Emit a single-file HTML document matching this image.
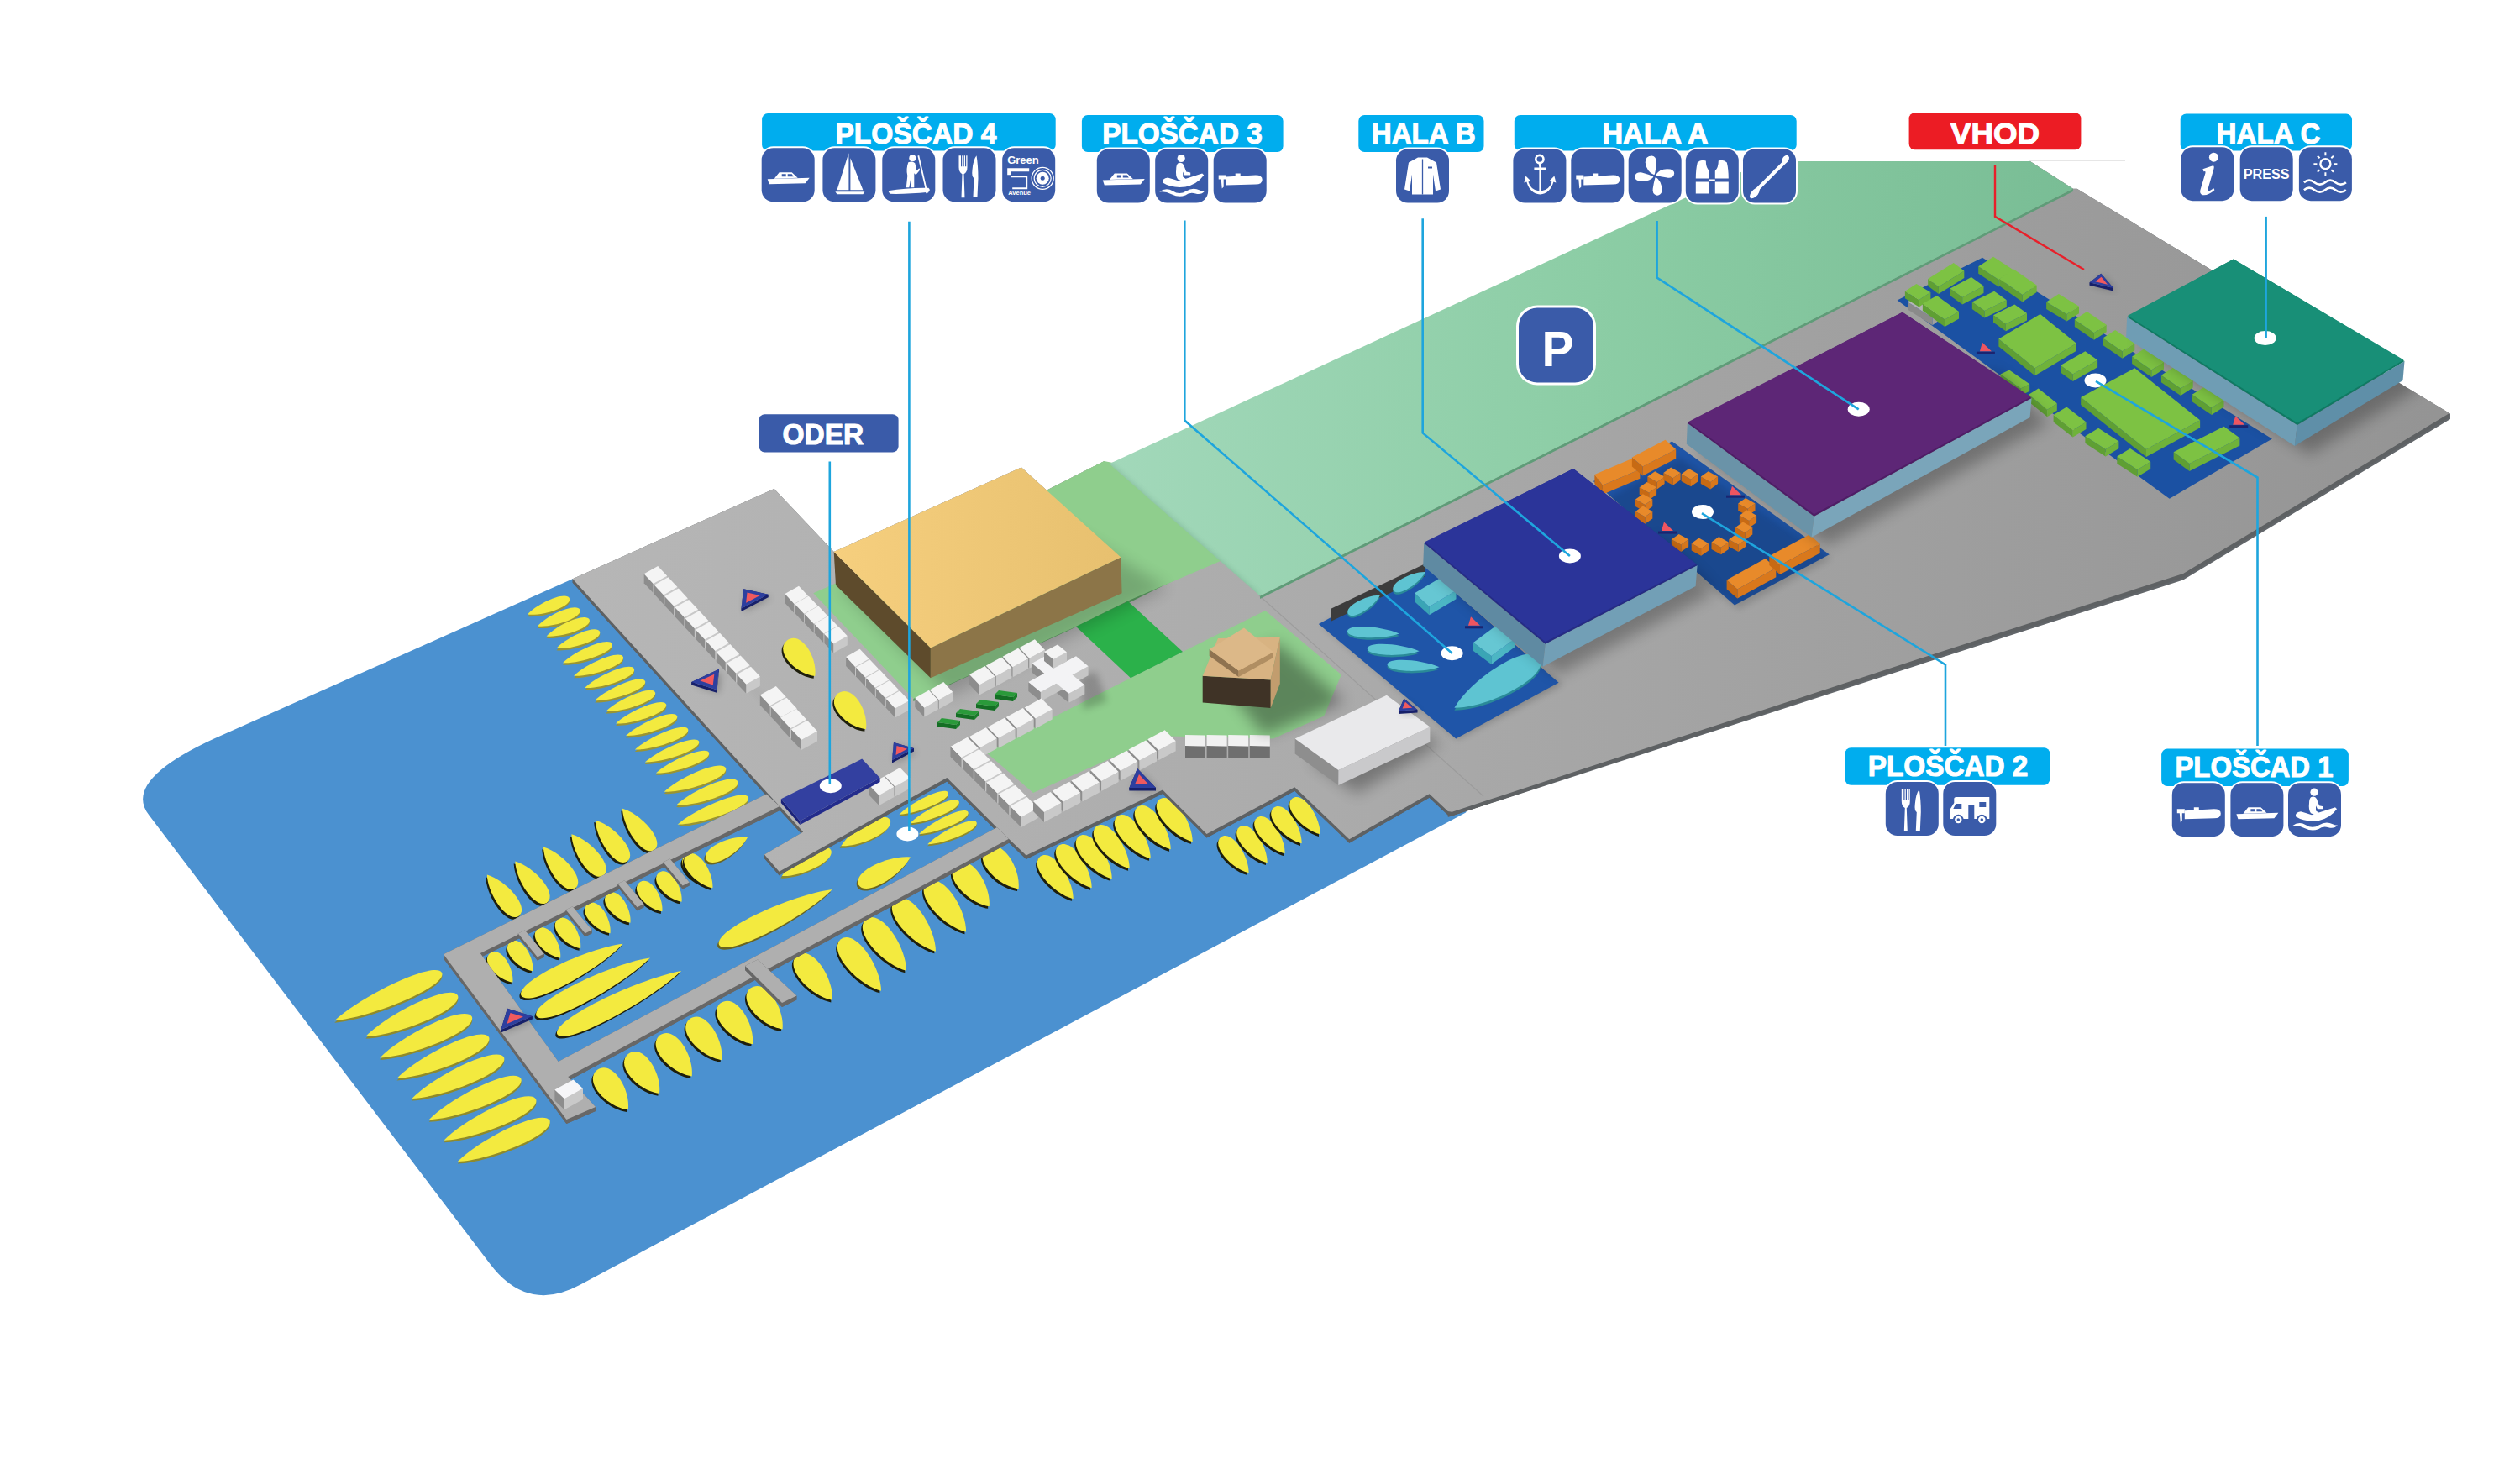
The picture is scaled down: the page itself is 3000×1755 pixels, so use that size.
<!DOCTYPE html><html><head><meta charset="utf-8"><style>html,body{margin:0;padding:0;width:3000px;height:1755px;overflow:hidden;background:#fff}</style></head><body><svg width="3000" height="1755" viewBox="0 0 3000 1755" style="position:absolute;left:0;top:0">
<defs>
<linearGradient id="gland" gradientUnits="userSpaceOnUse" x1="700" y1="0" x2="2900" y2="0">
<stop offset="0" stop-color="#b6b6b6"/><stop offset="0.4" stop-color="#ababab"/><stop offset="1" stop-color="#949494"/></linearGradient>
<linearGradient id="gpark" gradientUnits="userSpaceOnUse" x1="1320" y1="0" x2="2470" y2="0">
<stop offset="0" stop-color="#a2d8ba"/><stop offset="0.5" stop-color="#8ccda5"/><stop offset="1" stop-color="#79bd95"/></linearGradient>
<linearGradient id="gtan" gradientUnits="userSpaceOnUse" x1="990" y1="0" x2="1335" y2="0">
<stop offset="0" stop-color="#f6cf7e"/><stop offset="1" stop-color="#e7c06f"/></linearGradient>
<filter id="bl" x="-30%" y="-30%" width="160%" height="160%"><feGaussianBlur stdDeviation="9"/></filter>
<filter id="bl2" x="-30%" y="-30%" width="160%" height="160%"><feGaussianBlur stdDeviation="4"/></filter>
</defs>
<rect width="3000" height="1755" fill="#ffffff"/>
<path d="M 254.8,879.5 L 681.7,689.3 L 1000,850 L 1760,940 L 1745,967.5 L 690,1530 Q 627.8,1563.4 583.5,1505 L 177.4,970.6 Q 145.2,929.9 254.8,879.5 Z" fill="#4b91d0" />
<path transform="translate(653.0,724.4) rotate(-21.0)" d="M-26.8,0 C-10.7,-8.4 26.2,-10.1 26.8,0 C26.2,10.1 -10.7,8.4 -26.8,0Z" fill="#9a9432"/>
<path transform="translate(653.0,722.0) rotate(-21.0)" d="M-26.8,0 C-10.7,-8.4 26.2,-10.1 26.8,0 C26.2,10.1 -10.7,8.4 -26.8,0Z" fill="#f3ea3f"/>
<path transform="translate(665.2,738.1) rotate(-21.0)" d="M-27.1,0 C-10.9,-8.4 26.6,-10.1 27.1,0 C26.6,10.1 -10.9,8.4 -27.1,0Z" fill="#9a9432"/>
<path transform="translate(665.2,735.7) rotate(-21.0)" d="M-27.1,0 C-10.9,-8.4 26.6,-10.1 27.1,0 C26.6,10.1 -10.9,8.4 -27.1,0Z" fill="#f3ea3f"/>
<path transform="translate(676.2,750.0) rotate(-21.0)" d="M-27.4,0 C-11.0,-8.4 26.8,-10.1 27.4,0 C26.8,10.1 -11.0,8.4 -27.4,0Z" fill="#9a9432"/>
<path transform="translate(676.2,747.6) rotate(-21.0)" d="M-27.4,0 C-11.0,-8.4 26.8,-10.1 27.4,0 C26.8,10.1 -11.0,8.4 -27.4,0Z" fill="#f3ea3f"/>
<path transform="translate(688.3,764.3) rotate(-21.0)" d="M-27.6,0 C-11.0,-8.4 27.1,-10.1 27.6,0 C27.1,10.1 -11.0,8.4 -27.6,0Z" fill="#9a9432"/>
<path transform="translate(688.3,761.9) rotate(-21.0)" d="M-27.6,0 C-11.0,-8.4 27.1,-10.1 27.6,0 C27.1,10.1 -11.0,8.4 -27.6,0Z" fill="#f3ea3f"/>
<path transform="translate(699.4,780.4) rotate(-21.0)" d="M-31.5,0 C-12.6,-8.4 30.9,-10.1 31.5,0 C30.9,10.1 -12.6,8.4 -31.5,0Z" fill="#9a9432"/>
<path transform="translate(699.4,778.0) rotate(-21.0)" d="M-31.5,0 C-12.6,-8.4 30.9,-10.1 31.5,0 C30.9,10.1 -12.6,8.4 -31.5,0Z" fill="#f3ea3f"/>
<path transform="translate(712.5,795.9) rotate(-21.0)" d="M-31.5,0 C-12.6,-8.4 30.9,-10.1 31.5,0 C30.9,10.1 -12.6,8.4 -31.5,0Z" fill="#9a9432"/>
<path transform="translate(712.5,793.5) rotate(-21.0)" d="M-31.5,0 C-12.6,-8.4 30.9,-10.1 31.5,0 C30.9,10.1 -12.6,8.4 -31.5,0Z" fill="#f3ea3f"/>
<path transform="translate(725.6,810.1) rotate(-21.0)" d="M-31.5,0 C-12.6,-8.4 30.9,-10.1 31.5,0 C30.9,10.1 -12.6,8.4 -31.5,0Z" fill="#9a9432"/>
<path transform="translate(725.6,807.7) rotate(-21.0)" d="M-31.5,0 C-12.6,-8.4 30.9,-10.1 31.5,0 C30.9,10.1 -12.6,8.4 -31.5,0Z" fill="#f3ea3f"/>
<path transform="translate(738.1,825.0) rotate(-21.0)" d="M-32.1,0 C-12.9,-8.4 31.5,-10.1 32.1,0 C31.5,10.1 -12.9,8.4 -32.1,0Z" fill="#9a9432"/>
<path transform="translate(738.1,822.6) rotate(-21.0)" d="M-32.1,0 C-12.9,-8.4 31.5,-10.1 32.1,0 C31.5,10.1 -12.9,8.4 -32.1,0Z" fill="#f3ea3f"/>
<path transform="translate(750.6,838.1) rotate(-21.0)" d="M-31.5,0 C-12.6,-8.4 30.9,-10.1 31.5,0 C30.9,10.1 -12.6,8.4 -31.5,0Z" fill="#9a9432"/>
<path transform="translate(750.6,835.7) rotate(-21.0)" d="M-31.5,0 C-12.6,-8.4 30.9,-10.1 31.5,0 C30.9,10.1 -12.6,8.4 -31.5,0Z" fill="#f3ea3f"/>
<path transform="translate(763.1,852.4) rotate(-21.0)" d="M-32.1,0 C-12.9,-8.4 31.5,-10.1 32.1,0 C31.5,10.1 -12.9,8.4 -32.1,0Z" fill="#9a9432"/>
<path transform="translate(763.1,850.0) rotate(-21.0)" d="M-32.1,0 C-12.9,-8.4 31.5,-10.1 32.1,0 C31.5,10.1 -12.9,8.4 -32.1,0Z" fill="#f3ea3f"/>
<path transform="translate(775.6,866.7) rotate(-21.0)" d="M-32.7,0 C-13.1,-8.4 32.1,-10.1 32.7,0 C32.1,10.1 -13.1,8.4 -32.7,0Z" fill="#9a9432"/>
<path transform="translate(775.6,864.3) rotate(-21.0)" d="M-32.7,0 C-13.1,-8.4 32.1,-10.1 32.7,0 C32.1,10.1 -13.1,8.4 -32.7,0Z" fill="#f3ea3f"/>
<path transform="translate(787.5,882.8) rotate(-21.0)" d="M-33.9,0 C-13.6,-8.4 33.2,-10.1 33.9,0 C33.2,10.1 -13.6,8.4 -33.9,0Z" fill="#9a9432"/>
<path transform="translate(787.5,880.4) rotate(-21.0)" d="M-33.9,0 C-13.6,-8.4 33.2,-10.1 33.9,0 C33.2,10.1 -13.6,8.4 -33.9,0Z" fill="#f3ea3f"/>
<path transform="translate(800.0,897.6) rotate(-21.0)" d="M-34.5,0 C-13.8,-8.4 33.8,-10.1 34.5,0 C33.8,10.1 -13.8,8.4 -34.5,0Z" fill="#9a9432"/>
<path transform="translate(800.0,895.2) rotate(-21.0)" d="M-34.5,0 C-13.8,-8.4 33.8,-10.1 34.5,0 C33.8,10.1 -13.8,8.4 -34.5,0Z" fill="#f3ea3f"/>
<path transform="translate(812.5,910.7) rotate(-21.0)" d="M-33.9,0 C-13.6,-8.4 33.2,-10.1 33.9,0 C33.2,10.1 -13.6,8.4 -33.9,0Z" fill="#9a9432"/>
<path transform="translate(812.5,908.3) rotate(-21.0)" d="M-33.9,0 C-13.6,-8.4 33.2,-10.1 33.9,0 C33.2,10.1 -13.6,8.4 -33.9,0Z" fill="#f3ea3f"/>
<path transform="translate(827.4,931.0) rotate(-21.0)" d="M-39.3,0 C-15.7,-10.2 38.5,-12.2 39.3,0 C38.5,12.2 -15.7,10.2 -39.3,0Z" fill="#9a9432"/>
<path transform="translate(827.4,928.6) rotate(-21.0)" d="M-39.3,0 C-15.7,-10.2 38.5,-12.2 39.3,0 C38.5,12.2 -15.7,10.2 -39.3,0Z" fill="#f3ea3f"/>
<path transform="translate(841.7,947.0) rotate(-21.0)" d="M-39.3,0 C-15.7,-10.2 38.5,-12.2 39.3,0 C38.5,12.2 -15.7,10.2 -39.3,0Z" fill="#9a9432"/>
<path transform="translate(841.7,944.6) rotate(-21.0)" d="M-39.3,0 C-15.7,-10.2 38.5,-12.2 39.3,0 C38.5,12.2 -15.7,10.2 -39.3,0Z" fill="#f3ea3f"/>
<path transform="translate(848.8,967.9) rotate(-21.0)" d="M-45.2,0 C-18.1,-10.2 44.3,-12.2 45.2,0 C44.3,12.2 -18.1,10.2 -45.2,0Z" fill="#9a9432"/>
<path transform="translate(848.8,965.5) rotate(-21.0)" d="M-45.2,0 C-18.1,-10.2 44.3,-12.2 45.2,0 C44.3,12.2 -18.1,10.2 -45.2,0Z" fill="#f3ea3f"/>
<path transform="translate(597.3,1068.6) rotate(52.0)" d="M-31.0,0 C-12.4,-13.8 30.4,-16.6 31.0,0 C30.4,16.6 -12.4,13.8 -31.0,0Z" fill="#1e1e0c"/>
<path transform="translate(598.9,1066.0) rotate(52.0)" d="M-31.0,0 C-12.4,-13.8 30.4,-16.6 31.0,0 C30.4,16.6 -12.4,13.8 -31.0,0Z" fill="#f3ea3f"/>
<path transform="translate(630.8,1052.6) rotate(52.0)" d="M-31.0,0 C-12.4,-13.8 30.4,-16.6 31.0,0 C30.4,16.6 -12.4,13.8 -31.0,0Z" fill="#1e1e0c"/>
<path transform="translate(632.4,1050.0) rotate(52.0)" d="M-31.0,0 C-12.4,-13.8 30.4,-16.6 31.0,0 C30.4,16.6 -12.4,13.8 -31.0,0Z" fill="#f3ea3f"/>
<path transform="translate(664.4,1035.6) rotate(52.0)" d="M-31.0,0 C-12.4,-13.8 30.4,-16.6 31.0,0 C30.4,16.6 -12.4,13.8 -31.0,0Z" fill="#1e1e0c"/>
<path transform="translate(666.0,1033.0) rotate(52.0)" d="M-31.0,0 C-12.4,-13.8 30.4,-16.6 31.0,0 C30.4,16.6 -12.4,13.8 -31.0,0Z" fill="#f3ea3f"/>
<path transform="translate(697.9,1020.3) rotate(52.0)" d="M-31.0,0 C-12.4,-13.8 30.4,-16.6 31.0,0 C30.4,16.6 -12.4,13.8 -31.0,0Z" fill="#1e1e0c"/>
<path transform="translate(699.5,1017.7) rotate(52.0)" d="M-31.0,0 C-12.4,-13.8 30.4,-16.6 31.0,0 C30.4,16.6 -12.4,13.8 -31.0,0Z" fill="#f3ea3f"/>
<path transform="translate(726.3,1003.5) rotate(52.0)" d="M-31.0,0 C-12.4,-13.8 30.4,-16.6 31.0,0 C30.4,16.6 -12.4,13.8 -31.0,0Z" fill="#1e1e0c"/>
<path transform="translate(727.9,1000.9) rotate(52.0)" d="M-31.0,0 C-12.4,-13.8 30.4,-16.6 31.0,0 C30.4,16.6 -12.4,13.8 -31.0,0Z" fill="#f3ea3f"/>
<path transform="translate(758.5,989.9) rotate(52.0)" d="M-31.0,0 C-12.4,-13.8 30.4,-16.6 31.0,0 C30.4,16.6 -12.4,13.8 -31.0,0Z" fill="#1e1e0c"/>
<path transform="translate(760.1,987.3) rotate(52.0)" d="M-31.0,0 C-12.4,-13.8 30.4,-16.6 31.0,0 C30.4,16.6 -12.4,13.8 -31.0,0Z" fill="#f3ea3f"/>
<path transform="translate(595.2,1154.9) rotate(232.0)" d="M-22.0,0 C-8.8,-12.6 21.6,-15.1 22.0,0 C21.6,15.1 -8.8,12.6 -22.0,0Z" fill="#1e1e0c"/>
<path transform="translate(596.8,1152.3) rotate(232.0)" d="M-22.0,0 C-8.8,-12.6 21.6,-15.1 22.0,0 C21.6,15.1 -8.8,12.6 -22.0,0Z" fill="#f3ea3f"/>
<path transform="translate(619.2,1141.5) rotate(232.0)" d="M-22.0,0 C-8.8,-12.6 21.6,-15.1 22.0,0 C21.6,15.1 -8.8,12.6 -22.0,0Z" fill="#1e1e0c"/>
<path transform="translate(620.8,1138.9) rotate(232.0)" d="M-22.0,0 C-8.8,-12.6 21.6,-15.1 22.0,0 C21.6,15.1 -8.8,12.6 -22.0,0Z" fill="#f3ea3f"/>
<path transform="translate(652.0,1126.0) rotate(232.0)" d="M-22.0,0 C-8.8,-12.6 21.6,-15.1 22.0,0 C21.6,15.1 -8.8,12.6 -22.0,0Z" fill="#1e1e0c"/>
<path transform="translate(653.6,1123.4) rotate(232.0)" d="M-22.0,0 C-8.8,-12.6 21.6,-15.1 22.0,0 C21.6,15.1 -8.8,12.6 -22.0,0Z" fill="#f3ea3f"/>
<path transform="translate(676.0,1114.4) rotate(232.0)" d="M-22.0,0 C-8.8,-12.6 21.6,-15.1 22.0,0 C21.6,15.1 -8.8,12.6 -22.0,0Z" fill="#1e1e0c"/>
<path transform="translate(677.6,1111.8) rotate(232.0)" d="M-22.0,0 C-8.8,-12.6 21.6,-15.1 22.0,0 C21.6,15.1 -8.8,12.6 -22.0,0Z" fill="#f3ea3f"/>
<path transform="translate(711.4,1096.4) rotate(232.0)" d="M-22.0,0 C-8.8,-12.6 21.6,-15.1 22.0,0 C21.6,15.1 -8.8,12.6 -22.0,0Z" fill="#1e1e0c"/>
<path transform="translate(713.0,1093.8) rotate(232.0)" d="M-22.0,0 C-8.8,-12.6 21.6,-15.1 22.0,0 C21.6,15.1 -8.8,12.6 -22.0,0Z" fill="#f3ea3f"/>
<path transform="translate(735.3,1084.0) rotate(232.0)" d="M-22.0,0 C-8.8,-12.6 21.6,-15.1 22.0,0 C21.6,15.1 -8.8,12.6 -22.0,0Z" fill="#1e1e0c"/>
<path transform="translate(736.9,1081.4) rotate(232.0)" d="M-22.0,0 C-8.8,-12.6 21.6,-15.1 22.0,0 C21.6,15.1 -8.8,12.6 -22.0,0Z" fill="#f3ea3f"/>
<path transform="translate(773.2,1070.6) rotate(232.0)" d="M-22.0,0 C-8.8,-12.6 21.6,-15.1 22.0,0 C21.6,15.1 -8.8,12.6 -22.0,0Z" fill="#1e1e0c"/>
<path transform="translate(774.8,1068.0) rotate(232.0)" d="M-22.0,0 C-8.8,-12.6 21.6,-15.1 22.0,0 C21.6,15.1 -8.8,12.6 -22.0,0Z" fill="#f3ea3f"/>
<path transform="translate(796.4,1059.0) rotate(232.0)" d="M-22.0,0 C-8.8,-12.6 21.6,-15.1 22.0,0 C21.6,15.1 -8.8,12.6 -22.0,0Z" fill="#1e1e0c"/>
<path transform="translate(798.0,1056.4) rotate(232.0)" d="M-22.0,0 C-8.8,-12.6 21.6,-15.1 22.0,0 C21.6,15.1 -8.8,12.6 -22.0,0Z" fill="#f3ea3f"/>
<path transform="translate(827.4,1038.9) rotate(232.0)" d="M-22.0,0 C-8.8,-12.6 21.6,-15.1 22.0,0 C21.6,15.1 -8.8,12.6 -22.0,0Z" fill="#1e1e0c"/>
<path transform="translate(829.0,1036.3) rotate(232.0)" d="M-22.0,0 C-8.8,-12.6 21.6,-15.1 22.0,0 C21.6,15.1 -8.8,12.6 -22.0,0Z" fill="#f3ea3f"/>
<path transform="translate(679.4,1157.1) rotate(153.0)" d="M-68.0,0 C-27.2,-15.0 66.6,-18.0 68.0,0 C66.6,18.0 -27.2,15.0 -68.0,0Z" fill="#1e1e0c"/>
<path transform="translate(681.0,1154.5) rotate(153.0)" d="M-68.0,0 C-27.2,-15.0 66.6,-18.0 68.0,0 C66.6,18.0 -27.2,15.0 -68.0,0Z" fill="#f3ea3f"/>
<path transform="translate(704.6,1177.5) rotate(153.0)" d="M-76.0,0 C-30.4,-15.0 74.5,-18.0 76.0,0 C74.5,18.0 -30.4,15.0 -76.0,0Z" fill="#1e1e0c"/>
<path transform="translate(706.2,1174.9) rotate(153.0)" d="M-76.0,0 C-30.4,-15.0 74.5,-18.0 76.0,0 C74.5,18.0 -30.4,15.0 -76.0,0Z" fill="#f3ea3f"/>
<path transform="translate(735.6,1196.2) rotate(153.0)" d="M-83.0,0 C-33.2,-15.0 81.3,-18.0 83.0,0 C81.3,18.0 -33.2,15.0 -83.0,0Z" fill="#1e1e0c"/>
<path transform="translate(737.2,1193.6) rotate(153.0)" d="M-83.0,0 C-33.2,-15.0 81.3,-18.0 83.0,0 C81.3,18.0 -33.2,15.0 -83.0,0Z" fill="#f3ea3f"/>
<path transform="translate(462.2,1189.3) rotate(-24.0)" d="M-70.0,0 C-28.0,-14.4 68.6,-17.3 70.0,0 C68.6,17.3 -28.0,14.4 -70.0,0Z" fill="#8f8a2a"/>
<path transform="translate(462.2,1186.8) rotate(-24.0)" d="M-70.0,0 C-28.0,-14.4 68.6,-17.3 70.0,0 C68.6,17.3 -28.0,14.4 -70.0,0Z" fill="#f3ea3f"/>
<path transform="translate(490.2,1212.2) rotate(-24.0)" d="M-60.0,0 C-24.0,-14.4 58.8,-17.3 60.0,0 C58.8,17.3 -24.0,14.4 -60.0,0Z" fill="#8f8a2a"/>
<path transform="translate(490.2,1209.7) rotate(-24.0)" d="M-60.0,0 C-24.0,-14.4 58.8,-17.3 60.0,0 C58.8,17.3 -24.0,14.4 -60.0,0Z" fill="#f3ea3f"/>
<path transform="translate(507.0,1237.5) rotate(-24.0)" d="M-60.0,0 C-24.0,-14.4 58.8,-17.3 60.0,0 C58.8,17.3 -24.0,14.4 -60.0,0Z" fill="#8f8a2a"/>
<path transform="translate(507.0,1235.0) rotate(-24.0)" d="M-60.0,0 C-24.0,-14.4 58.8,-17.3 60.0,0 C58.8,17.3 -24.0,14.4 -60.0,0Z" fill="#f3ea3f"/>
<path transform="translate(527.3,1262.0) rotate(-24.0)" d="M-60.0,0 C-24.0,-14.4 58.8,-17.3 60.0,0 C58.8,17.3 -24.0,14.4 -60.0,0Z" fill="#8f8a2a"/>
<path transform="translate(527.3,1259.5) rotate(-24.0)" d="M-60.0,0 C-24.0,-14.4 58.8,-17.3 60.0,0 C58.8,17.3 -24.0,14.4 -60.0,0Z" fill="#f3ea3f"/>
<path transform="translate(545.2,1286.0) rotate(-24.0)" d="M-60.0,0 C-24.0,-14.4 58.8,-17.3 60.0,0 C58.8,17.3 -24.0,14.4 -60.0,0Z" fill="#8f8a2a"/>
<path transform="translate(545.2,1283.5) rotate(-24.0)" d="M-60.0,0 C-24.0,-14.4 58.8,-17.3 60.0,0 C58.8,17.3 -24.0,14.4 -60.0,0Z" fill="#f3ea3f"/>
<path transform="translate(565.5,1311.4) rotate(-24.0)" d="M-60.0,0 C-24.0,-14.4 58.8,-17.3 60.0,0 C58.8,17.3 -24.0,14.4 -60.0,0Z" fill="#8f8a2a"/>
<path transform="translate(565.5,1308.9) rotate(-24.0)" d="M-60.0,0 C-24.0,-14.4 58.8,-17.3 60.0,0 C58.8,17.3 -24.0,14.4 -60.0,0Z" fill="#f3ea3f"/>
<path transform="translate(583.3,1335.8) rotate(-24.0)" d="M-60.0,0 C-24.0,-14.4 58.8,-17.3 60.0,0 C58.8,17.3 -24.0,14.4 -60.0,0Z" fill="#8f8a2a"/>
<path transform="translate(583.3,1333.3) rotate(-24.0)" d="M-60.0,0 C-24.0,-14.4 58.8,-17.3 60.0,0 C58.8,17.3 -24.0,14.4 -60.0,0Z" fill="#f3ea3f"/>
<path transform="translate(599.6,1361.2) rotate(-24.0)" d="M-60.0,0 C-24.0,-14.4 58.8,-17.3 60.0,0 C58.8,17.3 -24.0,14.4 -60.0,0Z" fill="#8f8a2a"/>
<path transform="translate(599.6,1358.7) rotate(-24.0)" d="M-60.0,0 C-24.0,-14.4 58.8,-17.3 60.0,0 C58.8,17.3 -24.0,14.4 -60.0,0Z" fill="#f3ea3f"/>
<path transform="translate(727.7,1300.3) rotate(232.0)" d="M-30.0,0 C-12.0,-18.0 29.4,-21.6 30.0,0 C29.4,21.6 -12.0,18.0 -30.0,0Z" fill="#1e1e0c"/>
<path transform="translate(729.3,1297.7) rotate(232.0)" d="M-30.0,0 C-12.0,-18.0 29.4,-21.6 30.0,0 C29.4,21.6 -12.0,18.0 -30.0,0Z" fill="#f3ea3f"/>
<path transform="translate(764.9,1281.0) rotate(232.0)" d="M-30.0,0 C-12.0,-18.0 29.4,-21.6 30.0,0 C29.4,21.6 -12.0,18.0 -30.0,0Z" fill="#1e1e0c"/>
<path transform="translate(766.5,1278.4) rotate(232.0)" d="M-30.0,0 C-12.0,-18.0 29.4,-21.6 30.0,0 C29.4,21.6 -12.0,18.0 -30.0,0Z" fill="#f3ea3f"/>
<path transform="translate(803.0,1259.6) rotate(232.0)" d="M-31.0,0 C-12.4,-18.0 30.4,-21.6 31.0,0 C30.4,21.6 -12.4,18.0 -31.0,0Z" fill="#1e1e0c"/>
<path transform="translate(804.6,1257.0) rotate(232.0)" d="M-31.0,0 C-12.4,-18.0 30.4,-21.6 31.0,0 C30.4,21.6 -12.4,18.0 -31.0,0Z" fill="#f3ea3f"/>
<path transform="translate(838.6,1240.3) rotate(232.0)" d="M-31.0,0 C-12.4,-18.0 30.4,-21.6 31.0,0 C30.4,21.6 -12.4,18.0 -31.0,0Z" fill="#1e1e0c"/>
<path transform="translate(840.2,1237.7) rotate(232.0)" d="M-31.0,0 C-12.4,-18.0 30.4,-21.6 31.0,0 C30.4,21.6 -12.4,18.0 -31.0,0Z" fill="#f3ea3f"/>
<path transform="translate(875.3,1221.4) rotate(232.0)" d="M-31.0,0 C-12.4,-18.0 30.4,-21.6 31.0,0 C30.4,21.6 -12.4,18.0 -31.0,0Z" fill="#1e1e0c"/>
<path transform="translate(876.9,1218.8) rotate(232.0)" d="M-31.0,0 C-12.4,-18.0 30.4,-21.6 31.0,0 C30.4,21.6 -12.4,18.0 -31.0,0Z" fill="#f3ea3f"/>
<path transform="translate(910.9,1203.6) rotate(232.0)" d="M-31.0,0 C-12.4,-18.0 30.4,-21.6 31.0,0 C30.4,21.6 -12.4,18.0 -31.0,0Z" fill="#1e1e0c"/>
<path transform="translate(912.5,1201.0) rotate(232.0)" d="M-31.0,0 C-12.4,-18.0 30.4,-21.6 31.0,0 C30.4,21.6 -12.4,18.0 -31.0,0Z" fill="#f3ea3f"/>
<path transform="translate(968.4,1166.6) rotate(232.0)" d="M-34.0,0 C-13.6,-18.0 33.3,-21.6 34.0,0 C33.3,21.6 -13.6,18.0 -34.0,0Z" fill="#1e1e0c"/>
<path transform="translate(970.0,1164.0) rotate(232.0)" d="M-34.0,0 C-13.6,-18.0 33.3,-21.6 34.0,0 C33.3,21.6 -13.6,18.0 -34.0,0Z" fill="#f3ea3f"/>
<path transform="translate(1023.4,1151.6) rotate(232.0)" d="M-39.0,0 C-15.6,-18.0 38.2,-21.6 39.0,0 C38.2,21.6 -15.6,18.0 -39.0,0Z" fill="#1e1e0c"/>
<path transform="translate(1025.0,1149.0) rotate(232.0)" d="M-39.0,0 C-15.6,-18.0 38.2,-21.6 39.0,0 C38.2,21.6 -15.6,18.0 -39.0,0Z" fill="#f3ea3f"/>
<path transform="translate(1053.4,1127.6) rotate(232.0)" d="M-39.0,0 C-15.6,-18.0 38.2,-21.6 39.0,0 C38.2,21.6 -15.6,18.0 -39.0,0Z" fill="#1e1e0c"/>
<path transform="translate(1055.0,1125.0) rotate(232.0)" d="M-39.0,0 C-15.6,-18.0 38.2,-21.6 39.0,0 C38.2,21.6 -15.6,18.0 -39.0,0Z" fill="#f3ea3f"/>
<path transform="translate(1088.4,1104.6) rotate(232.0)" d="M-39.0,0 C-15.6,-18.0 38.2,-21.6 39.0,0 C38.2,21.6 -15.6,18.0 -39.0,0Z" fill="#1e1e0c"/>
<path transform="translate(1090.0,1102.0) rotate(232.0)" d="M-39.0,0 C-15.6,-18.0 38.2,-21.6 39.0,0 C38.2,21.6 -15.6,18.0 -39.0,0Z" fill="#f3ea3f"/>
<path transform="translate(1125.4,1082.6) rotate(232.0)" d="M-37.5,0 C-15.0,-18.0 36.8,-21.6 37.5,0 C36.8,21.6 -15.0,18.0 -37.5,0Z" fill="#1e1e0c"/>
<path transform="translate(1127.0,1080.0) rotate(232.0)" d="M-37.5,0 C-15.0,-18.0 36.8,-21.6 37.5,0 C36.8,21.6 -15.0,18.0 -37.5,0Z" fill="#f3ea3f"/>
<path transform="translate(1156.4,1056.6) rotate(232.0)" d="M-32.0,0 C-12.8,-18.0 31.4,-21.6 32.0,0 C31.4,21.6 -12.8,18.0 -32.0,0Z" fill="#1e1e0c"/>
<path transform="translate(1158.0,1054.0) rotate(232.0)" d="M-32.0,0 C-12.8,-18.0 31.4,-21.6 32.0,0 C31.4,21.6 -12.8,18.0 -32.0,0Z" fill="#f3ea3f"/>
<path transform="translate(1191.9,1036.6) rotate(232.0)" d="M-31.0,0 C-12.4,-18.0 30.4,-21.6 31.0,0 C30.4,21.6 -12.4,18.0 -31.0,0Z" fill="#1e1e0c"/>
<path transform="translate(1193.5,1034.0) rotate(232.0)" d="M-31.0,0 C-12.4,-18.0 30.4,-21.6 31.0,0 C30.4,21.6 -12.4,18.0 -31.0,0Z" fill="#f3ea3f"/>
<path transform="translate(1256.4,1047.6) rotate(232.0)" d="M-32.0,0 C-12.8,-15.0 31.4,-18.0 32.0,0 C31.4,18.0 -12.8,15.0 -32.0,0Z" fill="#1e1e0c"/>
<path transform="translate(1258.0,1045.0) rotate(232.0)" d="M-32.0,0 C-12.8,-15.0 31.4,-18.0 32.0,0 C31.4,18.0 -12.8,15.0 -32.0,0Z" fill="#f3ea3f"/>
<path transform="translate(1278.4,1034.6) rotate(232.0)" d="M-32.0,0 C-12.8,-15.0 31.4,-18.0 32.0,0 C31.4,18.0 -12.8,15.0 -32.0,0Z" fill="#1e1e0c"/>
<path transform="translate(1280.0,1032.0) rotate(232.0)" d="M-32.0,0 C-12.8,-15.0 31.4,-18.0 32.0,0 C31.4,18.0 -12.8,15.0 -32.0,0Z" fill="#f3ea3f"/>
<path transform="translate(1302.4,1023.6) rotate(232.0)" d="M-32.0,0 C-12.8,-15.0 31.4,-18.0 32.0,0 C31.4,18.0 -12.8,15.0 -32.0,0Z" fill="#1e1e0c"/>
<path transform="translate(1304.0,1021.0) rotate(232.0)" d="M-32.0,0 C-12.8,-15.0 31.4,-18.0 32.0,0 C31.4,18.0 -12.8,15.0 -32.0,0Z" fill="#f3ea3f"/>
<path transform="translate(1323.4,1011.6) rotate(232.0)" d="M-32.0,0 C-12.8,-15.0 31.4,-18.0 32.0,0 C31.4,18.0 -12.8,15.0 -32.0,0Z" fill="#1e1e0c"/>
<path transform="translate(1325.0,1009.0) rotate(232.0)" d="M-32.0,0 C-12.8,-15.0 31.4,-18.0 32.0,0 C31.4,18.0 -12.8,15.0 -32.0,0Z" fill="#f3ea3f"/>
<path transform="translate(1348.4,999.6) rotate(232.0)" d="M-32.0,0 C-12.8,-15.0 31.4,-18.0 32.0,0 C31.4,18.0 -12.8,15.0 -32.0,0Z" fill="#1e1e0c"/>
<path transform="translate(1350.0,997.0) rotate(232.0)" d="M-32.0,0 C-12.8,-15.0 31.4,-18.0 32.0,0 C31.4,18.0 -12.8,15.0 -32.0,0Z" fill="#f3ea3f"/>
<path transform="translate(1372.4,988.6) rotate(232.0)" d="M-32.0,0 C-12.8,-15.0 31.4,-18.0 32.0,0 C31.4,18.0 -12.8,15.0 -32.0,0Z" fill="#1e1e0c"/>
<path transform="translate(1374.0,986.0) rotate(232.0)" d="M-32.0,0 C-12.8,-15.0 31.4,-18.0 32.0,0 C31.4,18.0 -12.8,15.0 -32.0,0Z" fill="#f3ea3f"/>
<path transform="translate(1398.4,979.6) rotate(232.0)" d="M-32.0,0 C-12.8,-15.0 31.4,-18.0 32.0,0 C31.4,18.0 -12.8,15.0 -32.0,0Z" fill="#1e1e0c"/>
<path transform="translate(1400.0,977.0) rotate(232.0)" d="M-32.0,0 C-12.8,-15.0 31.4,-18.0 32.0,0 C31.4,18.0 -12.8,15.0 -32.0,0Z" fill="#f3ea3f"/>
<path transform="translate(1468.4,1020.6) rotate(232.0)" d="M-27.0,0 C-10.8,-13.2 26.5,-15.8 27.0,0 C26.5,15.8 -10.8,13.2 -27.0,0Z" fill="#1e1e0c"/>
<path transform="translate(1470.0,1018.0) rotate(232.0)" d="M-27.0,0 C-10.8,-13.2 26.5,-15.8 27.0,0 C26.5,15.8 -10.8,13.2 -27.0,0Z" fill="#f3ea3f"/>
<path transform="translate(1490.4,1008.6) rotate(232.0)" d="M-27.0,0 C-10.8,-13.2 26.5,-15.8 27.0,0 C26.5,15.8 -10.8,13.2 -27.0,0Z" fill="#1e1e0c"/>
<path transform="translate(1492.0,1006.0) rotate(232.0)" d="M-27.0,0 C-10.8,-13.2 26.5,-15.8 27.0,0 C26.5,15.8 -10.8,13.2 -27.0,0Z" fill="#f3ea3f"/>
<path transform="translate(1511.4,997.6) rotate(232.0)" d="M-27.0,0 C-10.8,-13.2 26.5,-15.8 27.0,0 C26.5,15.8 -10.8,13.2 -27.0,0Z" fill="#1e1e0c"/>
<path transform="translate(1513.0,995.0) rotate(232.0)" d="M-27.0,0 C-10.8,-13.2 26.5,-15.8 27.0,0 C26.5,15.8 -10.8,13.2 -27.0,0Z" fill="#f3ea3f"/>
<path transform="translate(1531.4,985.6) rotate(232.0)" d="M-27.0,0 C-10.8,-13.2 26.5,-15.8 27.0,0 C26.5,15.8 -10.8,13.2 -27.0,0Z" fill="#1e1e0c"/>
<path transform="translate(1533.0,983.0) rotate(232.0)" d="M-27.0,0 C-10.8,-13.2 26.5,-15.8 27.0,0 C26.5,15.8 -10.8,13.2 -27.0,0Z" fill="#f3ea3f"/>
<path transform="translate(1553.4,974.6) rotate(232.0)" d="M-27.0,0 C-10.8,-13.2 26.5,-15.8 27.0,0 C26.5,15.8 -10.8,13.2 -27.0,0Z" fill="#1e1e0c"/>
<path transform="translate(1555.0,972.0) rotate(232.0)" d="M-27.0,0 C-10.8,-13.2 26.5,-15.8 27.0,0 C26.5,15.8 -10.8,13.2 -27.0,0Z" fill="#f3ea3f"/>
<path transform="translate(1099.7,958.8) rotate(-24.0)" d="M-32.0,0 C-12.8,-7.8 31.4,-9.4 32.0,0 C31.4,9.4 -12.8,7.8 -32.0,0Z" fill="#8f8a2a"/>
<path transform="translate(1099.7,956.8) rotate(-24.0)" d="M-32.0,0 C-12.8,-7.8 31.4,-9.4 32.0,0 C31.4,9.4 -12.8,7.8 -32.0,0Z" fill="#f3ea3f"/>
<path transform="translate(1112.5,969.3) rotate(-24.0)" d="M-32.0,0 C-12.8,-7.8 31.4,-9.4 32.0,0 C31.4,9.4 -12.8,7.8 -32.0,0Z" fill="#8f8a2a"/>
<path transform="translate(1112.5,967.3) rotate(-24.0)" d="M-32.0,0 C-12.8,-7.8 31.4,-9.4 32.0,0 C31.4,9.4 -12.8,7.8 -32.0,0Z" fill="#f3ea3f"/>
<path transform="translate(1123.3,982.0) rotate(-24.0)" d="M-32.0,0 C-12.8,-7.8 31.4,-9.4 32.0,0 C31.4,9.4 -12.8,7.8 -32.0,0Z" fill="#8f8a2a"/>
<path transform="translate(1123.3,980.0) rotate(-24.0)" d="M-32.0,0 C-12.8,-7.8 31.4,-9.4 32.0,0 C31.4,9.4 -12.8,7.8 -32.0,0Z" fill="#f3ea3f"/>
<path transform="translate(1133.4,994.2) rotate(-24.0)" d="M-32.0,0 C-12.8,-7.8 31.4,-9.4 32.0,0 C31.4,9.4 -12.8,7.8 -32.0,0Z" fill="#8f8a2a"/>
<path transform="translate(1133.4,992.2) rotate(-24.0)" d="M-32.0,0 C-12.8,-7.8 31.4,-9.4 32.0,0 C31.4,9.4 -12.8,7.8 -32.0,0Z" fill="#f3ea3f"/>
<path transform="translate(1028.8,994.3) rotate(-28.0)" d="M-33.0,0 C-13.2,-12.0 32.3,-14.4 33.0,0 C32.3,14.4 -13.2,12.0 -33.0,0Z" fill="#8f8a2a"/>
<path transform="translate(1030.4,991.7) rotate(-28.0)" d="M-33.0,0 C-13.2,-12.0 32.3,-14.4 33.0,0 C32.3,14.4 -13.2,12.0 -33.0,0Z" fill="#f3ea3f"/>
<path transform="translate(958.4,1030.1) rotate(-28.0)" d="M-33.0,0 C-13.2,-12.0 32.3,-14.4 33.0,0 C32.3,14.4 -13.2,12.0 -33.0,0Z" fill="#8f8a2a"/>
<path transform="translate(960.0,1027.5) rotate(-28.0)" d="M-33.0,0 C-13.2,-12.0 32.3,-14.4 33.0,0 C32.3,14.4 -13.2,12.0 -33.0,0Z" fill="#f3ea3f"/>
<path transform="translate(1051.4,1039.6) rotate(152.0)" d="M-35.0,0 C-14.0,-14.4 34.3,-17.3 35.0,0 C34.3,17.3 -14.0,14.4 -35.0,0Z" fill="#6a6420"/>
<path transform="translate(1053.0,1037.0) rotate(152.0)" d="M-35.0,0 C-14.0,-14.4 34.3,-17.3 35.0,0 C34.3,17.3 -14.0,14.4 -35.0,0Z" fill="#f3ea3f"/>
<path transform="translate(921.8,1094.6) rotate(154.0)" d="M-75.0,0 C-30.0,-15.6 73.5,-18.7 75.0,0 C73.5,18.7 -30.0,15.6 -75.0,0Z" fill="#6a6420"/>
<path transform="translate(923.4,1092.0) rotate(154.0)" d="M-75.0,0 C-30.0,-15.6 73.5,-18.7 75.0,0 C73.5,18.7 -30.0,15.6 -75.0,0Z" fill="#f3ea3f"/>
<path transform="translate(863.8,1012.6) rotate(152.0)" d="M-28.0,0 C-11.2,-12.0 27.4,-14.4 28.0,0 C27.4,14.4 -11.2,12.0 -28.0,0Z" fill="#6a6420"/>
<path transform="translate(865.4,1010.0) rotate(152.0)" d="M-28.0,0 C-11.2,-12.0 27.4,-14.4 28.0,0 C27.4,14.4 -11.2,12.0 -28.0,0Z" fill="#f3ea3f"/>
<path transform="translate(831.4,1040.2) rotate(232.0)" d="M-25.0,0 C-10.0,-13.2 24.5,-15.8 25.0,0 C24.5,15.8 -10.0,13.2 -25.0,0Z" fill="#1e1e0c"/>
<path transform="translate(833.0,1037.6) rotate(232.0)" d="M-25.0,0 C-10.0,-13.2 24.5,-15.8 25.0,0 C24.5,15.8 -10.0,13.2 -25.0,0Z" fill="#f3ea3f"/>
<polygon points="1723.8,965.9 2300.0,779.4 2599.0,683.0 2917.0,492.0 2917.0,499.0 2599.0,690.5 2300.0,786.5 1723.8,973.0" fill="#62666a" />
<g fill="#5e6163"><polygon points="681.7,693.8 921.6,586.4 992.7,661.6 1215.9,561.0 1246.0,588.2 1314.3,553.7 1320.6,556.7 2416.7,196.4 2467.9,229.3 2472.6,229.3 2916.0,496.5 2599.0,687.5 2300.0,783.9 1728.6,971.2 1723.8,970.4 1701.6,949.7 1606.3,1003.7 1541.3,941.8 1436.5,997.4 1384.1,945.0 1221.6,1022.9 1186.7,989.7 1174.5,977.5 1127.3,930.5 927.6,1042.3 910.0,1022.0 956.2,995.0 928.3,964.4 914.3,949.6"/><polygon points="681.7,689.3 921.6,581.9 921.6,586.4 681.7,693.8"/><polygon points="921.6,581.9 992.7,657.1 992.7,661.6 921.6,586.4"/><polygon points="992.7,657.1 1215.9,556.5 1215.9,561.0 992.7,661.6"/><polygon points="1215.9,556.5 1246.0,583.7 1246.0,588.2 1215.9,561.0"/><polygon points="1246.0,583.7 1314.3,549.2 1314.3,553.7 1246.0,588.2"/><polygon points="1314.3,549.2 1320.6,552.2 1320.6,556.7 1314.3,553.7"/><polygon points="1320.6,552.2 2416.7,191.9 2416.7,196.4 1320.6,556.7"/><polygon points="2416.7,191.9 2467.9,224.8 2467.9,229.3 2416.7,196.4"/><polygon points="2467.9,224.8 2472.6,224.8 2472.6,229.3 2467.9,229.3"/><polygon points="2472.6,224.8 2916.0,492.0 2916.0,496.5 2472.6,229.3"/><polygon points="2916.0,492.0 2599.0,683.0 2599.0,687.5 2916.0,496.5"/><polygon points="2599.0,683.0 2300.0,779.4 2300.0,783.9 2599.0,687.5"/><polygon points="2300.0,779.4 1728.6,966.7 1728.6,971.2 2300.0,783.9"/><polygon points="1728.6,966.7 1723.8,965.9 1723.8,970.4 1728.6,971.2"/><polygon points="1723.8,965.9 1701.6,945.2 1701.6,949.7 1723.8,970.4"/><polygon points="1701.6,945.2 1606.3,999.2 1606.3,1003.7 1701.6,949.7"/><polygon points="1606.3,999.2 1541.3,937.3 1541.3,941.8 1606.3,1003.7"/><polygon points="1541.3,937.3 1436.5,992.9 1436.5,997.4 1541.3,941.8"/><polygon points="1436.5,992.9 1384.1,940.5 1384.1,945.0 1436.5,997.4"/><polygon points="1384.1,940.5 1221.6,1018.4 1221.6,1022.9 1384.1,945.0"/><polygon points="1221.6,1018.4 1186.7,985.2 1186.7,989.7 1221.6,1022.9"/><polygon points="1186.7,985.2 1174.5,973.0 1174.5,977.5 1186.7,989.7"/><polygon points="1174.5,973.0 1127.3,926.0 1127.3,930.5 1174.5,977.5"/><polygon points="1127.3,926.0 927.6,1037.8 927.6,1042.3 1127.3,930.5"/><polygon points="927.6,1037.8 910.0,1017.5 910.0,1022.0 927.6,1042.3"/><polygon points="910.0,1017.5 956.2,990.5 956.2,995.0 910.0,1022.0"/><polygon points="956.2,990.5 928.3,959.9 928.3,964.4 956.2,995.0"/><polygon points="928.3,959.9 914.3,945.1 914.3,949.6 928.3,964.4"/><polygon points="914.3,945.1 681.7,689.3 681.7,693.8 914.3,949.6"/></g>
<polygon points="681.7,689.3 921.6,581.9 992.7,657.1 1215.9,556.5 1246.0,583.7 1314.3,549.2 1320.6,552.2 2416.7,191.9 2467.9,224.8 2472.6,224.8 2916.0,492.0 2599.0,683.0 2300.0,779.4 1728.6,966.7 1723.8,965.9 1701.6,945.2 1606.3,999.2 1541.3,937.3 1436.5,992.9 1384.1,940.5 1221.6,1018.4 1186.7,985.2 1174.5,973.0 1127.3,926.0 927.6,1037.8 910.0,1017.5 956.2,990.5 928.3,959.9 914.3,945.1" fill="url(#gland)" />
<clipPath id="cland"><polygon points="681.7,689.3 921.6,581.9 992.7,657.1 1215.9,556.5 1246.0,583.7 1314.3,549.2 1320.6,552.2 2416.7,191.9 2467.9,224.8 2472.6,224.8 2916.0,492.0 2599.0,683.0 2300.0,779.4 1728.6,966.7 1723.8,965.9 1701.6,945.2 1606.3,999.2 1541.3,937.3 1436.5,992.9 1384.1,940.5 1221.6,1018.4 1186.7,985.2 1174.5,973.0 1127.3,926.0 927.6,1037.8 910.0,1017.5 956.2,990.5 928.3,959.9 914.3,945.1"/></clipPath>
<line x1="1499" y1="709" x2="1766" y2="948" stroke="#8f8f8f" stroke-width="1.2" opacity="0.5"/>
<g fill="#676767"><polygon points="912.3,950.5 528.0,1141.3 674.4,1338.0 709.0,1323.0 676.3,1287.0 1201.0,1003.8 1187.0,990.0 664.7,1269.0 571.8,1140.0 928.3,964.9"/><polygon points="912.3,945.5 528.0,1136.3 528.0,1141.3 912.3,950.5"/><polygon points="528.0,1136.3 674.4,1333.0 674.4,1338.0 528.0,1141.3"/><polygon points="674.4,1333.0 709.0,1318.0 709.0,1323.0 674.4,1338.0"/><polygon points="709.0,1318.0 676.3,1282.0 676.3,1287.0 709.0,1323.0"/><polygon points="676.3,1282.0 1201.0,998.8 1201.0,1003.8 676.3,1287.0"/><polygon points="1201.0,998.8 1187.0,985.0 1187.0,990.0 1201.0,1003.8"/><polygon points="1187.0,985.0 664.7,1264.0 664.7,1269.0 1187.0,990.0"/><polygon points="664.7,1264.0 571.8,1135.0 571.8,1140.0 664.7,1269.0"/><polygon points="571.8,1135.0 928.3,959.9 928.3,964.9 571.8,1140.0"/><polygon points="928.3,959.9 912.3,945.5 912.3,950.5 928.3,964.9"/></g>
<polygon points="912.3,945.5 528.0,1136.3 674.4,1333.0 709.0,1318.0 676.3,1282.0 1201.0,998.8 1187.0,985.0 664.7,1264.0 571.8,1135.0 928.3,959.9" fill="#afafaf" />
<g fill="#676767"><polygon points="887.0,1155.0 902.0,1147.5 948.4,1190.4 931.0,1199.0"/><polygon points="887.0,1150.0 902.0,1142.5 902.0,1147.5 887.0,1155.0"/><polygon points="902.0,1142.5 948.4,1185.4 948.4,1190.4 902.0,1147.5"/><polygon points="948.4,1185.4 931.0,1194.0 931.0,1199.0 948.4,1190.4"/><polygon points="931.0,1194.0 887.0,1150.0 887.0,1155.0 931.0,1199.0"/></g>
<polygon points="887.0,1150.0 902.0,1142.5 948.4,1185.4 931.0,1194.0" fill="#afafaf" />
<g fill="#676767"><polygon points="616.8,1115.6 624.8,1111.6 647.8,1139.6 639.8,1143.6"/><polygon points="616.8,1111.6 624.8,1107.6 624.8,1111.6 616.8,1115.6"/><polygon points="624.8,1107.6 647.8,1135.6 647.8,1139.6 624.8,1111.6"/><polygon points="647.8,1135.6 639.8,1139.6 639.8,1143.6 647.8,1139.6"/><polygon points="639.8,1139.6 616.8,1111.6 616.8,1115.6 639.8,1143.6"/></g>
<polygon points="616.8,1111.6 624.8,1107.6 647.8,1135.6 639.8,1139.6" fill="#afafaf" />
<g fill="#676767"><polygon points="673.6,1087.2 681.6,1083.2 704.6,1111.2 696.6,1115.2"/><polygon points="673.6,1083.2 681.6,1079.2 681.6,1083.2 673.6,1087.2"/><polygon points="681.6,1079.2 704.6,1107.2 704.6,1111.2 681.6,1083.2"/><polygon points="704.6,1107.2 696.6,1111.2 696.6,1115.2 704.6,1111.2"/><polygon points="696.6,1111.2 673.6,1083.2 673.6,1087.2 696.6,1115.2"/></g>
<polygon points="673.6,1083.2 681.6,1079.2 704.6,1107.2 696.6,1111.2" fill="#afafaf" />
<g fill="#676767"><polygon points="735.5,1056.2 743.5,1052.2 766.5,1080.2 758.5,1084.2"/><polygon points="735.5,1052.2 743.5,1048.2 743.5,1052.2 735.5,1056.2"/><polygon points="743.5,1048.2 766.5,1076.2 766.5,1080.2 743.5,1052.2"/><polygon points="766.5,1076.2 758.5,1080.2 758.5,1084.2 766.5,1080.2"/><polygon points="758.5,1080.2 735.5,1052.2 735.5,1056.2 758.5,1084.2"/></g>
<polygon points="735.5,1052.2 743.5,1048.2 766.5,1076.2 758.5,1080.2" fill="#afafaf" />
<g fill="#676767"><polygon points="789.6,1030.4 797.6,1026.4 820.6,1054.4 812.6,1058.4"/><polygon points="789.6,1026.4 797.6,1022.4 797.6,1026.4 789.6,1030.4"/><polygon points="797.6,1022.4 820.6,1050.4 820.6,1054.4 797.6,1026.4"/><polygon points="820.6,1050.4 812.6,1054.4 812.6,1058.4 820.6,1054.4"/><polygon points="812.6,1054.4 789.6,1026.4 789.6,1030.4 812.6,1058.4"/></g>
<polygon points="789.6,1026.4 797.6,1022.4 820.6,1050.4 812.6,1054.4" fill="#afafaf" />
<polygon points="1087.3,831.7 1341.3,715.9 1450.0,661.0 1450.0,665.0 1341.3,719.0 1087.3,835.0" fill="#5a9a60" />
<polygon points="1246.0,583.7 1314.3,549.0 1330.0,552.0 1460.0,665.0 1341.3,715.9 1281.0,746.0 1135.0,812.7 1087.3,831.7 968.3,706.3" fill="#8fce8d" />
<polygon points="1500.0,709.5 2467.9,224.8 2467.9,228.0 1500.0,713.0" fill="#5f9c78" />
<polygon points="1320.6,552.2 2100.7,191.9 2416.7,191.9 2467.9,224.8 2357.0,280.7 1500.0,709.5" fill="url(#gpark)" />
<clipPath id="cpark"><polygon points="1320.6,552.2 2100.7,191.9 2416.7,191.9 2467.9,224.8 2357.0,280.7 1500.0,709.5"/></clipPath>
<g clip-path="url(#cpark)"><polygon points="1318,552 1498,710 1490,716 1310,556" fill="#1a4a30" opacity="0.35" filter="url(#bl2)"/></g>
<polygon points="1173.0,895.0 1230.0,944.0 1382.5,876.2 1515.9,879.4 1576.2,852.4 1596.8,803.2 1506.3,727.0 1408.0,776.0 1344.4,807.9" fill="#8fce8d" />
<polygon points="1281.0,746.0 1343.0,716.0 1408.0,776.0 1346.0,807.3" fill="#2bb14a" />
<polygon points="1000,700 1225,600 1390,700 1130,830" fill="#000" opacity="0.18" filter="url(#bl)"/>
<polygon points="992.7,657.1 1107.9,771.4 1107.9,807.3 995.0,696.8" fill="#5e4b2c" />
<polygon points="1107.9,771.4 1334.3,663.5 1335.6,706.3 1107.9,807.3" fill="#8c7548" />
<polygon points="992.7,657.1 1215.9,556.5 1334.3,663.5 1107.9,771.4" fill="url(#gtan)" />
<polygon points="1575,745 1700,680 1860,815 1735,880" fill="#000" opacity="0.2" filter="url(#bl2)"/>
<polygon points="1569.8,742.9 1696.8,674.6 1855.6,812.7 1733.3,879.4" fill="#1f55a8" />
<polygon points="1896.8,573.0 1990.5,525.4 2177.8,660.3 2065.0,720.6" fill="#1f55a8" />
<polygon points="2258.6,357.4 2360.0,306.8 2704.9,522.6 2582.7,593.8" fill="#1b51a3" />
<polygon points="660.4,1297.6 671.9,1308.2 671.9,1321.2 660.4,1310.6" fill="#8d8d8d" />
<polygon points="671.9,1308.2 694.0,1296.1 694.0,1309.1 671.9,1321.2" fill="#c9c9c9" />
<polygon points="660.4,1297.6 682.5,1285.5 694.0,1296.1 671.9,1308.2" fill="#f6f6f8" />
<polygon points="770.0,690.0 912.0,835.0 925.0,850.0 800.0,720.0" fill="#000" opacity="0.25" filter="url(#bl2)"/>
<polygon points="766.7,683.3 777.7,695.1 777.7,706.1 766.7,694.3" fill="#8d8d8d" />
<polygon points="777.7,695.1 794.2,685.8 794.2,696.8 777.7,706.1" fill="#c9c9c9" />
<polygon points="766.7,683.3 783.2,674.0 794.2,685.8 777.7,695.1" fill="#f4f4f4" />
<polygon points="779.0,696.6 790.0,708.4 790.0,719.4 779.0,707.6" fill="#8d8d8d" />
<polygon points="790.0,708.4 806.5,699.1 806.5,710.1 790.0,719.4" fill="#c9c9c9" />
<polygon points="779.0,696.6 795.5,687.3 806.5,699.1 790.0,708.4" fill="#f4f4f4" />
<polygon points="791.3,709.9 802.3,721.7 802.3,732.7 791.3,720.9" fill="#8d8d8d" />
<polygon points="802.3,721.7 818.8,712.4 818.8,723.4 802.3,732.7" fill="#c9c9c9" />
<polygon points="791.3,709.9 807.8,700.6 818.8,712.4 802.3,721.7" fill="#f4f4f4" />
<polygon points="803.6,723.2 814.6,735.0 814.6,746.0 803.6,734.2" fill="#8d8d8d" />
<polygon points="814.6,735.0 831.1,725.7 831.1,736.7 814.6,746.0" fill="#c9c9c9" />
<polygon points="803.6,723.2 820.1,713.9 831.1,725.7 814.6,735.0" fill="#f4f4f4" />
<polygon points="815.9,736.5 826.9,748.3 826.9,759.3 815.9,747.5" fill="#8d8d8d" />
<polygon points="826.9,748.3 843.4,739.0 843.4,750.0 826.9,759.3" fill="#c9c9c9" />
<polygon points="815.9,736.5 832.4,727.2 843.4,739.0 826.9,748.3" fill="#f4f4f4" />
<polygon points="828.2,749.8 839.2,761.6 839.2,772.6 828.2,760.8" fill="#8d8d8d" />
<polygon points="839.2,761.6 855.7,752.3 855.7,763.3 839.2,772.6" fill="#c9c9c9" />
<polygon points="828.2,749.8 844.7,740.5 855.7,752.3 839.2,761.6" fill="#f4f4f4" />
<polygon points="840.5,763.1 851.5,774.9 851.5,785.9 840.5,774.1" fill="#8d8d8d" />
<polygon points="851.5,774.9 868.0,765.6 868.0,776.6 851.5,785.9" fill="#c9c9c9" />
<polygon points="840.5,763.1 857.0,753.8 868.0,765.6 851.5,774.9" fill="#f4f4f4" />
<polygon points="852.8,776.4 863.8,788.2 863.8,799.2 852.8,787.4" fill="#8d8d8d" />
<polygon points="863.8,788.2 880.3,778.9 880.3,789.9 863.8,799.2" fill="#c9c9c9" />
<polygon points="852.8,776.4 869.3,767.1 880.3,778.9 863.8,788.2" fill="#f4f4f4" />
<polygon points="865.1,789.7 876.1,801.5 876.1,812.5 865.1,800.7" fill="#8d8d8d" />
<polygon points="876.1,801.5 892.6,792.2 892.6,803.2 876.1,812.5" fill="#c9c9c9" />
<polygon points="865.1,789.7 881.6,780.4 892.6,792.2 876.1,801.5" fill="#f4f4f4" />
<polygon points="877.4,803.0 888.4,814.8 888.4,825.8 877.4,814.0" fill="#8d8d8d" />
<polygon points="888.4,814.8 904.9,805.5 904.9,816.5 888.4,825.8" fill="#c9c9c9" />
<polygon points="877.4,803.0 893.9,793.7 904.9,805.5 888.4,814.8" fill="#f4f4f4" />
<polygon points="934.5,707.1 945.5,718.9 945.5,729.9 934.5,718.1" fill="#8d8d8d" />
<polygon points="945.5,718.9 962.0,709.6 962.0,720.6 945.5,729.9" fill="#c9c9c9" />
<polygon points="934.5,707.1 951.0,697.8 962.0,709.6 945.5,718.9" fill="#f4f4f4" />
<polygon points="946.2,719.0 957.2,730.8 957.2,741.8 946.2,730.0" fill="#8d8d8d" />
<polygon points="957.2,730.8 973.7,721.5 973.7,732.5 957.2,741.8" fill="#c9c9c9" />
<polygon points="946.2,719.0 962.7,709.7 973.7,721.5 957.2,730.8" fill="#f4f4f4" />
<polygon points="957.9,730.9 968.9,742.7 968.9,753.7 957.9,741.9" fill="#8d8d8d" />
<polygon points="968.9,742.7 985.4,733.4 985.4,744.4 968.9,753.7" fill="#c9c9c9" />
<polygon points="957.9,730.9 974.4,721.6 985.4,733.4 968.9,742.7" fill="#f4f4f4" />
<polygon points="969.6,742.8 980.6,754.6 980.6,765.6 969.6,753.8" fill="#8d8d8d" />
<polygon points="980.6,754.6 997.1,745.3 997.1,756.3 980.6,765.6" fill="#c9c9c9" />
<polygon points="969.6,742.8 986.1,733.5 997.1,745.3 980.6,754.6" fill="#f4f4f4" />
<polygon points="981.3,754.7 992.3,766.5 992.3,777.5 981.3,765.7" fill="#8d8d8d" />
<polygon points="992.3,766.5 1008.8,757.2 1008.8,768.2 992.3,777.5" fill="#c9c9c9" />
<polygon points="981.3,754.7 997.8,745.4 1008.8,757.2 992.3,766.5" fill="#f4f4f4" />
<polygon points="904.8,827.4 916.8,840.2 916.8,852.2 904.8,839.4" fill="#8d8d8d" />
<polygon points="916.8,840.2 935.8,829.7 935.8,841.7 916.8,852.2" fill="#c9c9c9" />
<polygon points="904.8,827.4 923.8,816.9 935.8,829.7 916.8,840.2" fill="#f4f4f4" />
<polygon points="917.6,841.2 929.6,854.0 929.6,866.0 917.6,853.2" fill="#8d8d8d" />
<polygon points="929.6,854.0 948.6,843.5 948.6,855.5 929.6,866.0" fill="#c9c9c9" />
<polygon points="917.6,841.2 936.6,830.7 948.6,843.5 929.6,854.0" fill="#f4f4f4" />
<polygon points="929.2,854.5 941.2,867.3 941.2,879.3 929.2,866.5" fill="#8d8d8d" />
<polygon points="941.2,867.3 960.2,856.8 960.2,868.8 941.2,879.3" fill="#c9c9c9" />
<polygon points="929.2,854.5 948.2,844.0 960.2,856.8 941.2,867.3" fill="#f4f4f4" />
<polygon points="942.0,868.3 954.0,881.1 954.0,893.1 942.0,880.3" fill="#8d8d8d" />
<polygon points="954.0,881.1 973.0,870.6 973.0,882.6 954.0,893.1" fill="#c9c9c9" />
<polygon points="942.0,868.3 961.0,857.8 973.0,870.6 954.0,881.1" fill="#f4f4f4" />
<polygon points="1007.1,782.1 1018.1,793.9 1018.1,804.9 1007.1,793.1" fill="#8d8d8d" />
<polygon points="1018.1,793.9 1034.6,784.6 1034.6,795.6 1018.1,804.9" fill="#c9c9c9" />
<polygon points="1007.1,782.1 1023.6,772.8 1034.6,784.6 1018.1,793.9" fill="#f4f4f4" />
<polygon points="1019.0,794.5 1030.0,806.3 1030.0,817.3 1019.0,805.5" fill="#8d8d8d" />
<polygon points="1030.0,806.3 1046.5,797.0 1046.5,808.0 1030.0,817.3" fill="#c9c9c9" />
<polygon points="1019.0,794.5 1035.5,785.2 1046.5,797.0 1030.0,806.3" fill="#f4f4f4" />
<polygon points="1030.9,806.9 1041.9,818.7 1041.9,829.7 1030.9,817.9" fill="#8d8d8d" />
<polygon points="1041.9,818.7 1058.4,809.4 1058.4,820.4 1041.9,829.7" fill="#c9c9c9" />
<polygon points="1030.9,806.9 1047.4,797.6 1058.4,809.4 1041.9,818.7" fill="#f4f4f4" />
<polygon points="1042.8,819.3 1053.8,831.1 1053.8,842.1 1042.8,830.3" fill="#8d8d8d" />
<polygon points="1053.8,831.1 1070.3,821.8 1070.3,832.8 1053.8,842.1" fill="#c9c9c9" />
<polygon points="1042.8,819.3 1059.3,810.0 1070.3,821.8 1053.8,831.1" fill="#f4f4f4" />
<polygon points="1054.7,831.7 1065.7,843.5 1065.7,854.5 1054.7,842.7" fill="#8d8d8d" />
<polygon points="1065.7,843.5 1082.2,834.2 1082.2,845.2 1065.7,854.5" fill="#c9c9c9" />
<polygon points="1054.7,831.7 1071.2,822.4 1082.2,834.2 1065.7,843.5" fill="#f4f4f4" />
<polygon points="1106.8,821.4 1117.8,833.2 1117.8,844.2 1106.8,832.4" fill="#8d8d8d" />
<polygon points="1117.8,833.2 1134.3,823.9 1134.3,834.9 1117.8,844.2" fill="#c9c9c9" />
<polygon points="1106.8,821.4 1123.3,812.1 1134.3,823.9 1117.8,833.2" fill="#f4f4f4" />
<polygon points="1089.3,831.0 1100.3,842.8 1100.3,853.8 1089.3,842.0" fill="#8d8d8d" />
<polygon points="1100.3,842.8 1116.8,833.5 1116.8,844.5 1100.3,853.8" fill="#c9c9c9" />
<polygon points="1089.3,831.0 1105.8,821.7 1116.8,833.5 1100.3,842.8" fill="#f4f4f4" />
<polygon points="1053.5,924.1 1065.5,936.6 1065.5,948.6 1053.5,936.1" fill="#8d8d8d" />
<polygon points="1065.5,936.6 1083.5,926.6 1083.5,938.6 1065.5,948.6" fill="#c9c9c9" />
<polygon points="1053.5,924.1 1071.5,914.1 1083.5,926.6 1065.5,936.6" fill="#f4f4f4" />
<polygon points="1034.5,934.5 1046.5,947.0 1046.5,959.0 1034.5,946.5" fill="#8d8d8d" />
<polygon points="1046.5,947.0 1064.5,937.0 1064.5,949.0 1046.5,959.0" fill="#c9c9c9" />
<polygon points="1034.5,934.5 1052.5,924.5 1064.5,937.0 1046.5,947.0" fill="#f4f4f4" />
<polygon points="929.8,951.2 952.4,977.4 952.4,982.0 929.8,956.0" fill="#1b2379" />
<polygon points="952.4,977.4 1047.6,926.2 1047.6,931.0 952.4,982.0" fill="#232c8c" />
<polygon points="929.8,951.2 1026.2,903.6 1047.6,926.2 952.4,977.4" fill="#3340a0" />
<path transform="translate(952.0,786.4) rotate(232.0)" d="M-27.0,0 C-10.8,-16.8 26.5,-20.2 27.0,0 C26.5,20.2 -10.8,16.8 -27.0,0Z" fill="#1e1e0c"/>
<path transform="translate(953.6,783.8) rotate(232.0)" d="M-27.0,0 C-10.8,-16.8 26.5,-20.2 27.0,0 C26.5,20.2 -10.8,16.8 -27.0,0Z" fill="#f3ea3f"/>
<path transform="translate(1012.7,849.5) rotate(232.0)" d="M-27.0,0 C-10.8,-16.8 26.5,-20.2 27.0,0 C26.5,20.2 -10.8,16.8 -27.0,0Z" fill="#1e1e0c"/>
<path transform="translate(1014.3,846.9) rotate(232.0)" d="M-27.0,0 C-10.8,-16.8 26.5,-20.2 27.0,0 C26.5,20.2 -10.8,16.8 -27.0,0Z" fill="#f3ea3f"/>
<polygon points="1213.4,771.2 1225.4,783.7 1225.4,795.7 1213.4,783.2" fill="#8d8d8d" />
<polygon points="1225.4,783.7 1243.9,773.7 1243.9,785.7 1225.4,795.7" fill="#c9c9c9" />
<polygon points="1213.4,771.2 1231.9,761.2 1243.9,773.7 1225.4,783.7" fill="#f4f4f4" />
<polygon points="1193.6,781.8 1205.6,794.3 1205.6,806.3 1193.6,793.8" fill="#8d8d8d" />
<polygon points="1205.6,794.3 1224.1,784.3 1224.1,796.3 1205.6,806.3" fill="#c9c9c9" />
<polygon points="1193.6,781.8 1212.1,771.8 1224.1,784.3 1205.6,794.3" fill="#f4f4f4" />
<polygon points="1173.8,792.4 1185.8,804.9 1185.8,816.9 1173.8,804.4" fill="#8d8d8d" />
<polygon points="1185.8,804.9 1204.3,794.9 1204.3,806.9 1185.8,816.9" fill="#c9c9c9" />
<polygon points="1173.8,792.4 1192.3,782.4 1204.3,794.9 1185.8,804.9" fill="#f4f4f4" />
<polygon points="1154.0,803.0 1166.0,815.5 1166.0,827.5 1154.0,815.0" fill="#8d8d8d" />
<polygon points="1166.0,815.5 1184.5,805.5 1184.5,817.5 1166.0,827.5" fill="#c9c9c9" />
<polygon points="1154.0,803.0 1172.5,793.0 1184.5,805.5 1166.0,815.5" fill="#f4f4f4" />
<polygon points="1285.0,805.0 1305.0,800.0 1318.0,835.0 1290.0,845.0" fill="#000" opacity="0.2" filter="url(#bl2)"/>
<polygon points="1228.6,789.8 1272.4,825.8 1272.4,836.8 1228.6,800.8" fill="#8d8d8d" />
<polygon points="1272.4,825.8 1291.3,815.5 1291.3,826.5 1272.4,836.8" fill="#c6c6c6" />
<polygon points="1224.3,812.1 1238.9,824.1 1238.9,835.1 1224.3,823.1" fill="#8d8d8d" />
<polygon points="1238.9,824.1 1295.6,793.2 1295.6,804.2 1238.9,835.1" fill="#c6c6c6" />
<polygon points="1228.6,789.8 1247.5,779.5 1291.3,815.5 1272.4,825.8" fill="#f3f3f5" />
<polygon points="1224.3,812.1 1281.0,781.2 1295.6,793.2 1238.9,824.1" fill="#f3f3f5" />
<polygon points="1243.0,776.0 1254.0,785.0 1254.0,796.0 1243.0,787.0" fill="#8d8d8d" />
<polygon points="1254.0,785.0 1270.0,776.5 1270.0,787.5 1254.0,796.0" fill="#c9c9c9" />
<polygon points="1243.0,776.0 1259.0,767.5 1270.0,776.5 1254.0,785.0" fill="#f4f4f4" />
<polygon points="1219.7,842.5 1232.7,855.5 1232.7,867.5 1219.7,854.5" fill="#8d8d8d" />
<polygon points="1232.7,855.5 1252.7,844.5 1252.7,856.5 1232.7,867.5" fill="#c9c9c9" />
<polygon points="1219.7,842.5 1239.7,831.5 1252.7,844.5 1232.7,855.5" fill="#f4f4f4" />
<polygon points="1197.7,854.1 1210.7,867.1 1210.7,879.1 1197.7,866.1" fill="#8d8d8d" />
<polygon points="1210.7,867.1 1230.7,856.1 1230.7,868.1 1210.7,879.1" fill="#c9c9c9" />
<polygon points="1197.7,854.1 1217.7,843.1 1230.7,856.1 1210.7,867.1" fill="#f4f4f4" />
<polygon points="1175.7,865.7 1188.7,878.7 1188.7,890.7 1175.7,877.7" fill="#8d8d8d" />
<polygon points="1188.7,878.7 1208.7,867.7 1208.7,879.7 1188.7,890.7" fill="#c9c9c9" />
<polygon points="1175.7,865.7 1195.7,854.7 1208.7,867.7 1188.7,878.7" fill="#f4f4f4" />
<polygon points="1153.7,877.3 1166.7,890.3 1166.7,902.3 1153.7,889.3" fill="#8d8d8d" />
<polygon points="1166.7,890.3 1186.7,879.3 1186.7,891.3 1166.7,902.3" fill="#c9c9c9" />
<polygon points="1153.7,877.3 1173.7,866.3 1186.7,879.3 1166.7,890.3" fill="#f4f4f4" />
<polygon points="1131.7,888.9 1144.7,901.9 1144.7,913.9 1131.7,900.9" fill="#8d8d8d" />
<polygon points="1144.7,901.9 1164.7,890.9 1164.7,902.9 1144.7,913.9" fill="#c9c9c9" />
<polygon points="1131.7,888.9 1151.7,877.9 1164.7,890.9 1144.7,901.9" fill="#f4f4f4" />
<polygon points="1131.7,888.9 1144.7,901.9 1144.7,913.9 1131.7,900.9" fill="#8d8d8d" />
<polygon points="1144.7,901.9 1164.7,890.9 1164.7,902.9 1144.7,913.9" fill="#c9c9c9" />
<polygon points="1131.7,888.9 1151.7,877.9 1164.7,890.9 1144.7,901.9" fill="#f4f4f4" />
<polygon points="1145.9,903.1 1158.9,916.1 1158.9,928.1 1145.9,915.1" fill="#8d8d8d" />
<polygon points="1158.9,916.1 1178.9,905.1 1178.9,917.1 1158.9,928.1" fill="#c9c9c9" />
<polygon points="1145.9,903.1 1165.9,892.1 1178.9,905.1 1158.9,916.1" fill="#f4f4f4" />
<polygon points="1160.1,917.3 1173.1,930.3 1173.1,942.3 1160.1,929.3" fill="#8d8d8d" />
<polygon points="1173.1,930.3 1193.1,919.3 1193.1,931.3 1173.1,942.3" fill="#c9c9c9" />
<polygon points="1160.1,917.3 1180.1,906.3 1193.1,919.3 1173.1,930.3" fill="#f4f4f4" />
<polygon points="1174.3,931.5 1187.3,944.5 1187.3,956.5 1174.3,943.5" fill="#8d8d8d" />
<polygon points="1187.3,944.5 1207.3,933.5 1207.3,945.5 1187.3,956.5" fill="#c9c9c9" />
<polygon points="1174.3,931.5 1194.3,920.5 1207.3,933.5 1187.3,944.5" fill="#f4f4f4" />
<polygon points="1188.5,945.7 1201.5,958.7 1201.5,970.7 1188.5,957.7" fill="#8d8d8d" />
<polygon points="1201.5,958.7 1221.5,947.7 1221.5,959.7 1201.5,970.7" fill="#c9c9c9" />
<polygon points="1188.5,945.7 1208.5,934.7 1221.5,947.7 1201.5,958.7" fill="#f4f4f4" />
<polygon points="1202.7,959.9 1215.7,972.9 1215.7,984.9 1202.7,971.9" fill="#8d8d8d" />
<polygon points="1215.7,972.9 1235.7,961.9 1235.7,973.9 1215.7,984.9" fill="#c9c9c9" />
<polygon points="1202.7,959.9 1222.7,948.9 1235.7,961.9 1215.7,972.9" fill="#f4f4f4" />
<polygon points="1366.2,880.2 1379.2,893.2 1379.2,905.2 1366.2,892.2" fill="#8d8d8d" />
<polygon points="1379.2,893.2 1399.7,882.2 1399.7,894.2 1379.2,905.2" fill="#c9c9c9" />
<polygon points="1366.2,880.2 1386.7,869.2 1399.7,882.2 1379.2,893.2" fill="#f4f4f4" />
<polygon points="1343.5,892.5 1356.5,905.5 1356.5,917.5 1343.5,904.5" fill="#8d8d8d" />
<polygon points="1356.5,905.5 1377.0,894.5 1377.0,906.5 1356.5,917.5" fill="#c9c9c9" />
<polygon points="1343.5,892.5 1364.0,881.5 1377.0,894.5 1356.5,905.5" fill="#f4f4f4" />
<polygon points="1320.8,904.8 1333.8,917.8 1333.8,929.8 1320.8,916.8" fill="#8d8d8d" />
<polygon points="1333.8,917.8 1354.3,906.8 1354.3,918.8 1333.8,929.8" fill="#c9c9c9" />
<polygon points="1320.8,904.8 1341.3,893.8 1354.3,906.8 1333.8,917.8" fill="#f4f4f4" />
<polygon points="1298.1,917.1 1311.1,930.1 1311.1,942.1 1298.1,929.1" fill="#8d8d8d" />
<polygon points="1311.1,930.1 1331.6,919.1 1331.6,931.1 1311.1,942.1" fill="#c9c9c9" />
<polygon points="1298.1,917.1 1318.6,906.1 1331.6,919.1 1311.1,930.1" fill="#f4f4f4" />
<polygon points="1275.4,929.4 1288.4,942.4 1288.4,954.4 1275.4,941.4" fill="#8d8d8d" />
<polygon points="1288.4,942.4 1308.9,931.4 1308.9,943.4 1288.4,954.4" fill="#c9c9c9" />
<polygon points="1275.4,929.4 1295.9,918.4 1308.9,931.4 1288.4,942.4" fill="#f4f4f4" />
<polygon points="1252.7,941.7 1265.7,954.7 1265.7,966.7 1252.7,953.7" fill="#8d8d8d" />
<polygon points="1265.7,954.7 1286.2,943.7 1286.2,955.7 1265.7,966.7" fill="#c9c9c9" />
<polygon points="1252.7,941.7 1273.2,930.7 1286.2,943.7 1265.7,954.7" fill="#f4f4f4" />
<polygon points="1230.0,954.0 1243.0,967.0 1243.0,979.0 1230.0,966.0" fill="#8d8d8d" />
<polygon points="1243.0,967.0 1263.5,956.0 1263.5,968.0 1243.0,979.0" fill="#c9c9c9" />
<polygon points="1230.0,954.0 1250.5,943.0 1263.5,956.0 1243.0,967.0" fill="#f4f4f4" />
<polygon points="1411.0,888.0 1435.0,888.5 1435.0,903.0 1411.0,902.5" fill="#6f6f6f" />
<polygon points="1411.0,875.0 1435.0,875.5 1435.0,888.5 1411.0,888.0" fill="#f1f1f1" />
<polygon points="1436.6,888.0 1460.6,888.5 1460.6,903.0 1436.6,902.5" fill="#6f6f6f" />
<polygon points="1436.6,875.0 1460.6,875.5 1460.6,888.5 1436.6,888.0" fill="#f1f1f1" />
<polygon points="1462.2,888.0 1486.2,888.5 1486.2,903.0 1462.2,902.5" fill="#6f6f6f" />
<polygon points="1462.2,875.0 1486.2,875.5 1486.2,888.5 1462.2,888.0" fill="#f1f1f1" />
<polygon points="1487.8,888.0 1511.8,888.5 1511.8,903.0 1487.8,902.5" fill="#6f6f6f" />
<polygon points="1487.8,875.0 1511.8,875.5 1511.8,888.5 1487.8,888.0" fill="#f1f1f1" />
<polygon points="1116.0,860.0 1138.0,863.0 1138.0,868.0 1116.0,865.0" fill="#146e24" />
<polygon points="1116.0,860.0 1121.0,855.0 1143.0,858.0 1138.0,863.0" fill="#2a9a3a" />
<polygon points="1138.0,863.0 1143.0,858.0 1143.0,863.0 1138.0,868.0" fill="#1c7e2c" />
<polygon points="1138.0,849.0 1160.0,852.0 1160.0,857.0 1138.0,854.0" fill="#146e24" />
<polygon points="1138.0,849.0 1143.0,844.0 1165.0,847.0 1160.0,852.0" fill="#2a9a3a" />
<polygon points="1160.0,852.0 1165.0,847.0 1165.0,852.0 1160.0,857.0" fill="#1c7e2c" />
<polygon points="1162.0,838.0 1184.0,841.0 1184.0,846.0 1162.0,843.0" fill="#146e24" />
<polygon points="1162.0,838.0 1167.0,833.0 1189.0,836.0 1184.0,841.0" fill="#2a9a3a" />
<polygon points="1184.0,841.0 1189.0,836.0 1189.0,841.0 1184.0,846.0" fill="#1c7e2c" />
<polygon points="1184.0,827.0 1206.0,830.0 1206.0,835.0 1184.0,832.0" fill="#146e24" />
<polygon points="1184.0,827.0 1189.0,822.0 1211.0,825.0 1206.0,830.0" fill="#2a9a3a" />
<polygon points="1206.0,830.0 1211.0,825.0 1211.0,830.0 1206.0,835.0" fill="#1c7e2c" />
<polygon points="1445.0,800.0 1520.0,765.0 1600.0,835.0 1505.0,875.0" fill="#000" opacity="0.35" filter="url(#bl)"/>
<polygon points="1431.7,804.8 1512.7,809.5 1512.7,842.9 1431.7,836.5" fill="#3f3326" />
<polygon points="1512.7,809.5 1523.8,758.7 1523.8,814.0 1512.7,842.9" fill="#c29d6e" />
<polygon points="1431.7,804.8 1450.0,760.0 1523.8,758.7 1512.7,809.5" fill="#d8b382" />
<polygon points="1439.7,773.0 1474.6,798.4 1474.6,806.0 1439.7,781.0" fill="#8f7350" />
<polygon points="1474.6,798.4 1515.9,776.2 1515.9,783.0 1474.6,806.0" fill="#b08e62" />
<polygon points="1439.7,773.0 1481.0,747.6 1515.9,776.2 1474.6,798.4" fill="#dcb888" />
<polygon points="1560.0,905.0 1655.0,855.0 1715.0,885.0 1615.0,945.0" fill="#000" opacity="0.3" filter="url(#bl)"/>
<polygon points="1541.7,879.4 1593.3,917.0 1593.3,935.0 1541.7,897.4" fill="#8e8e8e" />
<polygon points="1593.3,917.0 1702.4,865.4 1702.4,883.4 1593.3,935.0" fill="#c9c9cb" />
<polygon points="1541.7,879.4 1650.8,827.8 1702.4,865.4 1593.3,917.0" fill="#e9e9eb" />
<polygon points="1584.0,725.0 1697.0,671.0 1697.0,686.0 1584.0,740.0" fill="#3c3c3c" />
<path transform="translate(1623.8,722.2) rotate(150.0)" d="M-22.0,0 C-8.8,-8.4 21.6,-10.1 22.0,0 C21.6,10.1 -8.8,8.4 -22.0,0Z" fill="#2a8a98"/>
<path transform="translate(1623.8,719.7) rotate(150.0)" d="M-22.0,0 C-8.8,-8.4 21.6,-10.1 22.0,0 C21.6,10.1 -8.8,8.4 -22.0,0Z" fill="#5ec4d2"/>
<path transform="translate(1677.8,694.5) rotate(150.0)" d="M-22.0,0 C-8.8,-8.4 21.6,-10.1 22.0,0 C21.6,10.1 -8.8,8.4 -22.0,0Z" fill="#2a8a98"/>
<path transform="translate(1677.8,692.0) rotate(150.0)" d="M-22.0,0 C-8.8,-8.4 21.6,-10.1 22.0,0 C21.6,10.1 -8.8,8.4 -22.0,0Z" fill="#5ec4d2"/>
<path transform="translate(1634.9,755.5) rotate(183.0)" d="M-31.0,0 C-12.4,-7.8 30.4,-9.4 31.0,0 C30.4,9.4 -12.4,7.8 -31.0,0Z" fill="#2a8a98"/>
<path transform="translate(1634.9,753.0) rotate(183.0)" d="M-31.0,0 C-12.4,-7.8 30.4,-9.4 31.0,0 C30.4,9.4 -12.4,7.8 -31.0,0Z" fill="#5ec4d2"/>
<path transform="translate(1658.7,776.2) rotate(183.0)" d="M-31.0,0 C-12.4,-7.8 30.4,-9.4 31.0,0 C30.4,9.4 -12.4,7.8 -31.0,0Z" fill="#2a8a98"/>
<path transform="translate(1658.7,773.7) rotate(183.0)" d="M-31.0,0 C-12.4,-7.8 30.4,-9.4 31.0,0 C30.4,9.4 -12.4,7.8 -31.0,0Z" fill="#5ec4d2"/>
<path transform="translate(1682.5,795.2) rotate(183.0)" d="M-31.0,0 C-12.4,-7.8 30.4,-9.4 31.0,0 C30.4,9.4 -12.4,7.8 -31.0,0Z" fill="#2a8a98"/>
<path transform="translate(1682.5,792.7) rotate(183.0)" d="M-31.0,0 C-12.4,-7.8 30.4,-9.4 31.0,0 C30.4,9.4 -12.4,7.8 -31.0,0Z" fill="#5ec4d2"/>
<path transform="translate(1782.5,816.3) rotate(-30.0)" d="M-59.0,0 C-23.6,-20.4 57.8,-24.5 59.0,0 C57.8,24.5 -23.6,20.4 -59.0,0Z" fill="#2a8a98"/>
<path transform="translate(1782.5,813.3) rotate(-30.0)" d="M-59.0,0 C-23.6,-20.4 57.8,-24.5 59.0,0 C57.8,24.5 -23.6,20.4 -59.0,0Z" fill="#5ec4d2"/>
<polygon points="1684.0,706.3 1701.5,722.2 1701.5,732.2 1684.0,716.3" fill="#3aa5b5" />
<polygon points="1701.5,722.2 1733.5,703.2 1733.5,713.2 1701.5,732.2" fill="#4cb6c4" />
<polygon points="1684.0,706.3 1716.0,687.3 1733.5,703.2 1701.5,722.2" fill="#66c7d3" />
<polygon points="1754.0,765.0 1775.5,780.9 1775.5,790.9 1754.0,775.0" fill="#3aa5b5" />
<polygon points="1775.5,780.9 1803.5,760.3 1803.5,770.3 1775.5,790.9" fill="#4cb6c4" />
<polygon points="1754.0,765.0 1782.0,744.4 1803.5,760.3 1775.5,780.9" fill="#66c7d3" />
<polygon points="1900.0,600.0 2000.0,545.0 2180.0,665.0 2070.0,725.0" fill="#000" opacity="0.15" filter="url(#bl2)"/>
<polygon points="1898.4,565.1 1907.9,577.8 1907.9,588.8 1898.4,576.1" fill="#c76a14" />
<polygon points="1907.9,577.8 1952.4,558.7 1952.4,569.7 1907.9,588.8" fill="#d9781c" />
<polygon points="1898.4,565.1 1942.9,546.0 1952.4,558.7 1907.9,577.8" fill="#e88a2a" />
<polygon points="1942.9,544.4 1955.6,555.6 1955.6,566.6 1942.9,555.4" fill="#c76a14" />
<polygon points="1955.6,555.6 1995.2,534.9 1995.2,545.9 1955.6,566.6" fill="#d9781c" />
<polygon points="1942.9,544.4 1982.5,523.8 1995.2,534.9 1955.6,555.6" fill="#e88a2a" />
<polygon points="2055.6,690.5 2068.3,701.6 2068.3,712.6 2055.6,701.5" fill="#c76a14" />
<polygon points="2068.3,701.6 2114.3,676.2 2114.3,687.2 2068.3,712.6" fill="#d9781c" />
<polygon points="2055.6,690.5 2101.6,665.1 2114.3,676.2 2068.3,701.6" fill="#e88a2a" />
<polygon points="2106.3,661.9 2119.0,673.0 2119.0,684.0 2106.3,672.9" fill="#c76a14" />
<polygon points="2119.0,673.0 2166.7,647.6 2166.7,658.6 2119.0,684.0" fill="#d9781c" />
<polygon points="2106.3,661.9 2154.0,636.5 2166.7,647.6 2119.0,673.0" fill="#e88a2a" />
<polygon points="1961.3,567.6 1972.7,574.0 1972.7,582.5 1961.3,576.1" fill="#c76a14" />
<polygon points="1972.7,574.0 1981.6,567.6 1981.6,576.1 1972.7,582.5" fill="#d9781c" />
<polygon points="1961.3,567.6 1970.2,561.3 1981.6,567.6 1972.7,574.0" fill="#e88a2a" />
<polygon points="1980.3,562.9 1991.7,569.2 1991.7,577.7 1980.3,571.4" fill="#c76a14" />
<polygon points="1991.7,569.2 2000.6,562.9 2000.6,571.4 1991.7,577.7" fill="#d9781c" />
<polygon points="1980.3,562.9 1989.2,556.5 2000.6,562.9 1991.7,569.2" fill="#e88a2a" />
<polygon points="2001.6,564.4 2013.0,570.8 2013.0,579.3 2001.6,572.9" fill="#c76a14" />
<polygon points="2013.0,570.8 2021.9,564.4 2021.9,572.9 2013.0,579.3" fill="#d9781c" />
<polygon points="2001.6,564.4 2010.5,558.1 2021.9,564.4 2013.0,570.8" fill="#e88a2a" />
<polygon points="2024.8,567.6 2036.2,574.0 2036.2,582.5 2024.8,576.1" fill="#c76a14" />
<polygon points="2036.2,574.0 2045.1,567.6 2045.1,576.1 2036.2,582.5" fill="#d9781c" />
<polygon points="2024.8,567.6 2033.7,561.3 2045.1,567.6 2036.2,574.0" fill="#e88a2a" />
<polygon points="1951.7,580.3 1963.2,586.7 1963.2,595.2 1951.7,588.8" fill="#c76a14" />
<polygon points="1963.2,586.7 1972.1,580.3 1972.1,588.8 1963.2,595.2" fill="#d9781c" />
<polygon points="1951.7,580.3 1960.6,574.0 1972.1,580.3 1963.2,586.7" fill="#e88a2a" />
<polygon points="1947.0,594.6 1958.4,601.0 1958.4,609.5 1947.0,603.1" fill="#c76a14" />
<polygon points="1958.4,601.0 1967.3,594.6 1967.3,603.1 1958.4,609.5" fill="#d9781c" />
<polygon points="1947.0,594.6 1955.9,588.3 1967.3,594.6 1958.4,601.0" fill="#e88a2a" />
<polygon points="1947.0,608.9 1958.4,615.2 1958.4,623.7 1947.0,617.4" fill="#c76a14" />
<polygon points="1958.4,615.2 1967.3,608.9 1967.3,617.4 1958.4,623.7" fill="#d9781c" />
<polygon points="1947.0,608.9 1955.9,602.5 1967.3,608.9 1958.4,615.2" fill="#e88a2a" />
<polygon points="2069.2,599.4 2080.6,605.7 2080.6,614.2 2069.2,607.9" fill="#c76a14" />
<polygon points="2080.6,605.7 2089.5,599.4 2089.5,607.9 2080.6,614.2" fill="#d9781c" />
<polygon points="2069.2,599.4 2078.1,593.0 2089.5,599.4 2080.6,605.7" fill="#e88a2a" />
<polygon points="2070.8,613.7 2082.2,620.0 2082.2,628.5 2070.8,622.2" fill="#c76a14" />
<polygon points="2082.2,620.0 2091.1,613.7 2091.1,622.2 2082.2,628.5" fill="#d9781c" />
<polygon points="2070.8,613.7 2079.7,607.3 2091.1,613.7 2082.2,620.0" fill="#e88a2a" />
<polygon points="2066.0,627.9 2077.5,634.3 2077.5,642.8 2066.0,636.4" fill="#c76a14" />
<polygon points="2077.5,634.3 2086.3,627.9 2086.3,636.4 2077.5,642.8" fill="#d9781c" />
<polygon points="2066.0,627.9 2074.9,621.6 2086.3,627.9 2077.5,634.3" fill="#e88a2a" />
<polygon points="2058.1,642.2 2069.5,648.6 2069.5,657.1 2058.1,650.7" fill="#c76a14" />
<polygon points="2069.5,648.6 2078.4,642.2 2078.4,650.7 2069.5,657.1" fill="#d9781c" />
<polygon points="2058.1,642.2 2067.0,635.9 2078.4,642.2 2069.5,648.6" fill="#e88a2a" />
<polygon points="1989.8,642.2 2001.3,648.6 2001.3,657.1 1989.8,650.7" fill="#c76a14" />
<polygon points="2001.3,648.6 2010.2,642.2 2010.2,650.7 2001.3,657.1" fill="#d9781c" />
<polygon points="1989.8,642.2 1998.7,635.9 2010.2,642.2 2001.3,648.6" fill="#e88a2a" />
<polygon points="2013.7,647.0 2025.1,653.3 2025.1,661.8 2013.7,655.5" fill="#c76a14" />
<polygon points="2025.1,653.3 2034.0,647.0 2034.0,655.5 2025.1,661.8" fill="#d9781c" />
<polygon points="2013.7,647.0 2022.5,640.6 2034.0,647.0 2025.1,653.3" fill="#e88a2a" />
<polygon points="2037.5,645.4 2048.9,651.7 2048.9,660.2 2037.5,653.9" fill="#c76a14" />
<polygon points="2048.9,651.7 2057.8,645.4 2057.8,653.9 2048.9,660.2" fill="#d9781c" />
<polygon points="2037.5,645.4 2046.3,639.0 2057.8,645.4 2048.9,651.7" fill="#e88a2a" />
<polygon points="2271.0,359.4 2300.5,378.3 2300.5,387.3 2271.0,368.4" fill="#8a8a8a" />
<polygon points="2300.5,378.3 2308.9,372.0 2308.9,381.0 2300.5,387.3" fill="#a0a0a0" />
<polygon points="2271.0,359.4 2279.4,353.1 2308.9,372.0 2300.5,378.3" fill="#b5b5b5" />
<polygon points="2267.9,346.8 2284.7,356.9 2284.7,365.4 2267.9,355.3" fill="#5f9f34" />
<polygon points="2284.7,356.9 2298.4,348.1 2298.4,356.6 2284.7,365.4" fill="#6fb23a" />
<polygon points="2267.9,346.8 2281.5,338.0 2298.4,348.1 2284.7,356.9" fill="#7dc243" />
<polygon points="2295.2,332.1 2307.8,341.5 2307.8,350.0 2295.2,340.6" fill="#5f9f34" />
<polygon points="2307.8,341.5 2338.3,322.6 2338.3,331.1 2307.8,350.0" fill="#6fb23a" />
<polygon points="2295.2,332.1 2325.7,313.1 2338.3,322.6 2307.8,341.5" fill="#7dc243" />
<polygon points="2355.2,317.3 2379.4,333.1 2379.4,341.6 2355.2,325.8" fill="#5f9f34" />
<polygon points="2379.4,333.1 2397.2,321.5 2397.2,330.0 2379.4,341.6" fill="#6fb23a" />
<polygon points="2355.2,317.3 2373.0,305.8 2397.2,321.5 2379.4,333.1" fill="#7dc243" />
<polygon points="2380.4,332.1 2407.7,351.0 2407.7,359.5 2380.4,340.6" fill="#5f9f34" />
<polygon points="2407.7,351.0 2424.6,339.4 2424.6,347.9 2407.7,359.5" fill="#6fb23a" />
<polygon points="2380.4,332.1 2397.2,320.5 2424.6,339.4 2407.7,351.0" fill="#7dc243" />
<polygon points="2436.1,359.4 2460.3,374.1 2460.3,382.6 2436.1,367.9" fill="#5f9f34" />
<polygon points="2460.3,374.1 2475.0,364.7 2475.0,373.2 2460.3,382.6" fill="#6fb23a" />
<polygon points="2436.1,359.4 2450.9,349.9 2475.0,364.7 2460.3,374.1" fill="#7dc243" />
<polygon points="2469.8,380.4 2492.9,396.2 2492.9,404.7 2469.8,388.9" fill="#5f9f34" />
<polygon points="2492.9,396.2 2507.7,386.8 2507.7,395.3 2492.9,404.7" fill="#6fb23a" />
<polygon points="2469.8,380.4 2484.5,371.0 2507.7,386.8 2492.9,396.2" fill="#7dc243" />
<polygon points="2503.4,402.5 2526.6,418.3 2526.6,426.8 2503.4,411.0" fill="#5f9f34" />
<polygon points="2526.6,418.3 2541.3,408.8 2541.3,417.3 2526.6,426.8" fill="#6fb23a" />
<polygon points="2503.4,402.5 2518.2,393.1 2541.3,408.8 2526.6,418.3" fill="#7dc243" />
<polygon points="2538.1,424.6 2561.3,440.4 2561.3,448.9 2538.1,433.1" fill="#5f9f34" />
<polygon points="2561.3,440.4 2576.0,430.9 2576.0,439.4 2561.3,448.9" fill="#6fb23a" />
<polygon points="2538.1,424.6 2552.9,415.1 2576.0,430.9 2561.3,440.4" fill="#7dc243" />
<polygon points="2572.9,446.7 2596.0,462.5 2596.0,471.0 2572.9,455.2" fill="#5f9f34" />
<polygon points="2596.0,462.5 2610.7,453.0 2610.7,461.5 2596.0,471.0" fill="#6fb23a" />
<polygon points="2572.9,446.7 2587.6,437.2 2610.7,453.0 2596.0,462.5" fill="#7dc243" />
<polygon points="2609.7,469.8 2632.8,485.6 2632.8,494.1 2609.7,478.3" fill="#5f9f34" />
<polygon points="2632.8,485.6 2647.5,476.1 2647.5,484.6 2632.8,494.1" fill="#6fb23a" />
<polygon points="2609.7,469.8 2624.4,460.4 2647.5,476.1 2632.8,485.6" fill="#7dc243" />
<polygon points="2288.9,361.5 2315.2,380.4 2315.2,388.9 2288.9,370.0" fill="#5f9f34" />
<polygon points="2315.2,380.4 2332.0,371.0 2332.0,379.5 2315.2,388.9" fill="#6fb23a" />
<polygon points="2288.9,361.5 2305.7,352.0 2332.0,371.0 2315.2,380.4" fill="#7dc243" />
<polygon points="2321.5,343.6 2336.2,354.1 2336.2,362.6 2321.5,352.1" fill="#5f9f34" />
<polygon points="2336.2,354.1 2361.5,340.5 2361.5,349.0 2336.2,362.6" fill="#6fb23a" />
<polygon points="2321.5,343.6 2346.8,330.0 2361.5,340.5 2336.2,354.1" fill="#7dc243" />
<polygon points="2347.8,359.4 2362.5,369.9 2362.5,378.4 2347.8,367.9" fill="#5f9f34" />
<polygon points="2362.5,369.9 2388.8,357.3 2388.8,365.8 2362.5,378.4" fill="#6fb23a" />
<polygon points="2347.8,359.4 2374.1,346.8 2388.8,357.3 2362.5,369.9" fill="#7dc243" />
<polygon points="2373.0,375.2 2387.8,385.7 2387.8,394.2 2373.0,383.7" fill="#5f9f34" />
<polygon points="2387.8,385.7 2413.0,373.1 2413.0,381.6 2387.8,394.2" fill="#6fb23a" />
<polygon points="2373.0,375.2 2398.3,362.6 2413.0,373.1 2387.8,385.7" fill="#7dc243" />
<polygon points="2379.4,403.6 2422.5,438.3 2422.5,447.3 2379.4,412.6" fill="#5f9f34" />
<polygon points="2422.5,438.3 2471.9,408.8 2471.9,417.8 2422.5,447.3" fill="#6fb23a" />
<polygon points="2379.4,403.6 2428.8,374.1 2471.9,408.8 2422.5,438.3" fill="#7dc243" />
<polygon points="2453.0,435.1 2467.7,445.6 2467.7,454.1 2453.0,443.6" fill="#5f9f34" />
<polygon points="2467.7,445.6 2497.1,428.8 2497.1,437.3 2467.7,454.1" fill="#6fb23a" />
<polygon points="2453.0,435.1 2482.4,418.3 2497.1,428.8 2467.7,445.6" fill="#7dc243" />
<polygon points="2477.2,473.0 2555.0,535.0 2555.0,544.0 2477.2,482.0" fill="#5f9f34" />
<polygon points="2555.0,535.0 2619.1,500.3 2619.1,509.3 2555.0,544.0" fill="#6fb23a" />
<polygon points="2477.2,473.0 2541.3,438.3 2619.1,500.3 2555.0,535.0" fill="#7dc243" />
<polygon points="2587.6,538.2 2606.5,551.9 2606.5,560.9 2587.6,547.2" fill="#5f9f34" />
<polygon points="2606.5,551.9 2666.4,521.4 2666.4,530.4 2606.5,560.9" fill="#6fb23a" />
<polygon points="2587.6,538.2 2647.5,507.7 2666.4,521.4 2606.5,551.9" fill="#7dc243" />
<polygon points="2381.5,445.6 2405.6,462.5 2405.6,471.0 2381.5,454.1" fill="#5f9f34" />
<polygon points="2405.6,462.5 2416.2,457.2 2416.2,465.7 2405.6,471.0" fill="#6fb23a" />
<polygon points="2381.5,445.6 2392.0,440.4 2416.2,457.2 2405.6,462.5" fill="#7dc243" />
<polygon points="2415.1,469.8 2437.2,487.7 2437.2,496.2 2415.1,478.3" fill="#5f9f34" />
<polygon points="2437.2,487.7 2448.8,480.3 2448.8,488.8 2437.2,496.2" fill="#6fb23a" />
<polygon points="2415.1,469.8 2426.7,462.5 2448.8,480.3 2437.2,487.7" fill="#7dc243" />
<polygon points="2444.6,494.0 2467.7,511.9 2467.7,520.4 2444.6,502.5" fill="#5f9f34" />
<polygon points="2467.7,511.9 2483.5,502.4 2483.5,510.9 2467.7,520.4" fill="#6fb23a" />
<polygon points="2444.6,494.0 2460.3,484.6 2483.5,502.4 2467.7,511.9" fill="#7dc243" />
<polygon points="2482.4,519.3 2506.6,535.0 2506.6,543.5 2482.4,527.8" fill="#5f9f34" />
<polygon points="2506.6,535.0 2522.4,525.6 2522.4,534.1 2506.6,543.5" fill="#6fb23a" />
<polygon points="2482.4,519.3 2498.2,509.8 2522.4,525.6 2506.6,535.0" fill="#7dc243" />
<polygon points="2520.3,543.4 2544.5,559.2 2544.5,567.7 2520.3,551.9" fill="#5f9f34" />
<polygon points="2544.5,559.2 2560.2,549.8 2560.2,558.3 2544.5,567.7" fill="#6fb23a" />
<polygon points="2520.3,543.4 2536.0,534.0 2560.2,549.8 2544.5,559.2" fill="#7dc243" />
<g clip-path="url(#cland)"><polygon points="1705.2,678.7 1854.7,803.7 2040.6,705.0 1980.6,643.0" fill="#000" opacity="0.28" filter="url(#bl)"/></g>
<polygon points="1695.2,646.7 1839.7,766.7 1836.7,793.7 1694.2,673.7" fill="#5f8aa2" />
<polygon points="1839.7,766.7 2020.6,673.0 2018.6,698.0 1836.7,793.7" fill="#729fb6" />
<polygon points="1695.2,646.7 1873.0,558.1 2020.6,673.0 1839.7,766.7" fill="#252c85" />
<polygon points="1696.2,645.2 1873.0,558.1 2019.6,671.5 1839.7,764.2" fill="#2b3499" />
<g clip-path="url(#cland)"><polygon points="2018.8,533.7 2174.6,649.8 2438.6,503.9 2378.6,443.9" fill="#000" opacity="0.28" filter="url(#bl)"/></g>
<polygon points="2008.8,503.7 2159.6,614.8 2156.6,639.8 2007.8,528.7" fill="#6a93a8" />
<polygon points="2159.6,614.8 2418.6,473.9 2416.6,496.9 2156.6,639.8" fill="#7aa5ba" />
<polygon points="2008.8,503.7 2264.8,371.7 2418.6,473.9 2159.6,614.8" fill="#4e1d66" />
<polygon points="2009.8,502.2 2264.8,371.7 2417.6,472.4 2159.6,612.3" fill="#5d2676" />
<g clip-path="url(#cland)"><polygon points="2542.1,407.3 2749.8,540.9 2882.5,460.0 2822.5,400.0" fill="#000" opacity="0.28" filter="url(#bl)"/></g>
<polygon points="2532.1,377.3 2734.8,505.9 2731.8,530.9 2531.1,402.3" fill="#6f9db4" />
<polygon points="2734.8,505.9 2862.5,430.0 2860.5,453.0 2731.8,530.9" fill="#5f8fa8" />
<polygon points="2532.1,377.3 2658.9,308.6 2862.5,430.0 2734.8,505.9" fill="#0f7a63" />
<polygon points="2533.1,375.8 2658.9,308.6 2861.5,428.5 2734.8,503.4" fill="#188f77" />
<polygon points="888.2,704.2 918.5,711.7 885.5,728.5" fill="#000" opacity="0.22" filter="url(#bl2)"/>
<polygon points="885.2,701.2 914.5,707.7 914.5,711.2 885.2,704.7" fill="#17206a" />
<polygon points="914.5,707.7 882.5,724.5 882.5,728.0 914.5,711.2" fill="#17206a" />
<polygon points="882.5,724.5 885.2,701.2 885.2,704.7 882.5,728.0" fill="#17206a" />
<polygon points="885.2,701.2 914.5,707.7 882.5,724.5" fill="#2d3f9f" />
<polygon points="889.5,705.6 904.7,709.0 888.1,717.7" fill="#f05a5e" />
<polygon points="858.9,799.7 827.3,815.9 856.2,825.2" fill="#000" opacity="0.22" filter="url(#bl2)"/>
<polygon points="855.9,796.7 823.3,811.9 823.3,815.4 855.9,800.2" fill="#17206a" />
<polygon points="823.3,811.9 853.2,821.2 853.2,824.7 823.3,815.4" fill="#17206a" />
<polygon points="853.2,821.2 855.9,796.7 855.9,800.2 853.2,824.7" fill="#17206a" />
<polygon points="855.9,796.7 823.3,811.9 853.2,821.2" fill="#2d3f9f" />
<polygon points="850.3,802.7 833.3,810.6 848.8,815.4" fill="#f05a5e" />
<polygon points="1067.0,887.0 1092.0,895.0 1065.0,909.0" fill="#000" opacity="0.22" filter="url(#bl2)"/>
<polygon points="1064.0,884.0 1088.0,891.0 1088.0,894.5 1064.0,887.5" fill="#17206a" />
<polygon points="1088.0,891.0 1062.0,905.0 1062.0,908.5 1088.0,894.5" fill="#17206a" />
<polygon points="1062.0,905.0 1064.0,884.0 1064.0,887.5 1062.0,908.5" fill="#17206a" />
<polygon points="1064.0,884.0 1088.0,891.0 1062.0,905.0" fill="#2d3f9f" />
<polygon points="1067.5,888.1 1080.0,891.7 1066.5,899.0" fill="#f05a5e" />
<polygon points="1357.0,918.0 1380.0,942.0 1347.4,942.0" fill="#000" opacity="0.22" filter="url(#bl2)"/>
<polygon points="1354.0,915.0 1376.0,938.0 1376.0,941.5 1354.0,918.5" fill="#17206a" />
<polygon points="1376.0,938.0 1344.4,938.0 1344.4,941.5 1376.0,941.5" fill="#17206a" />
<polygon points="1344.4,938.0 1354.0,915.0 1354.0,918.5 1344.4,941.5" fill="#17206a" />
<polygon points="1354.0,915.0 1376.0,938.0 1344.4,938.0" fill="#2d3f9f" />
<polygon points="1356.0,922.0 1367.4,933.9 1351.0,933.9" fill="#f05a5e" />
<polygon points="1674.4,834.7 1691.3,849.0 1668.0,850.6" fill="#000" opacity="0.22" filter="url(#bl2)"/>
<polygon points="1671.4,831.7 1687.3,845.0 1687.3,848.5 1671.4,835.2" fill="#17206a" />
<polygon points="1687.3,845.0 1665.0,846.6 1665.0,850.1 1687.3,848.5" fill="#17206a" />
<polygon points="1665.0,846.6 1671.4,831.7 1671.4,835.2 1665.0,850.1" fill="#17206a" />
<polygon points="1671.4,831.7 1687.3,845.0 1665.0,846.6" fill="#2d3f9f" />
<polygon points="1672.9,835.8 1681.2,842.7 1669.6,843.6" fill="#f05a5e" />
<polygon points="607.0,1203.8 637.7,1213.9 599.3,1230.0" fill="#000" opacity="0.22" filter="url(#bl2)"/>
<polygon points="604.0,1200.8 633.7,1209.9 633.7,1213.4 604.0,1204.3" fill="#17206a" />
<polygon points="633.7,1209.9 596.3,1226.0 596.3,1229.5 633.7,1213.4" fill="#17206a" />
<polygon points="596.3,1226.0 604.0,1200.8 604.0,1204.3 596.3,1229.5" fill="#17206a" />
<polygon points="604.0,1200.8 633.7,1209.9 596.3,1226.0" fill="#2d3f9f" />
<polygon points="607.5,1205.9 623.0,1210.6 603.5,1219.0" fill="#f05a5e" />
<polygon points="2504.3,328.8 2520.0,347.0 2490.7,340.3" fill="#000" opacity="0.22" filter="url(#bl2)"/>
<polygon points="2501.3,325.8 2516.0,343.0 2516.0,346.5 2501.3,329.3" fill="#17206a" />
<polygon points="2516.0,343.0 2487.7,336.3 2487.7,339.8 2516.0,346.5" fill="#17206a" />
<polygon points="2487.7,336.3 2501.3,325.8 2501.3,329.3 2487.7,339.8" fill="#17206a" />
<polygon points="2501.3,325.8 2516.0,343.0 2487.7,336.3" fill="#2d3f9f" />
<polygon points="2501.5,329.8 2509.1,338.8 2494.4,335.3" fill="#f05a5e" />
<polygon points="1744.0,745.3 1766.0,745.3 1766.0,748.3 1744.0,748.3" fill="#1b2470" />
<polygon points="1748.0,744.8 1751.0,734.3 1762.0,744.8" fill="#ef5560" />
<polygon points="1974.0,632.6 1996.0,632.6 1996.0,635.6 1974.0,635.6" fill="#1b2470" />
<polygon points="1978.0,632.1 1981.0,621.6 1992.0,632.1" fill="#ef5560" />
<polygon points="2055.0,589.7 2077.0,589.7 2077.0,592.7 2055.0,592.7" fill="#1b2470" />
<polygon points="2059.0,589.2 2062.0,578.7 2073.0,589.2" fill="#ef5560" />
<polygon points="2352.9,418.7 2374.9,418.7 2374.9,421.7 2352.9,421.7" fill="#1b2470" />
<polygon points="2356.9,418.2 2359.9,407.7 2370.9,418.2" fill="#ef5560" />
<polygon points="2654.2,506.2 2676.2,506.2 2676.2,509.2 2654.2,509.2" fill="#1b2470" />
<polygon points="2658.2,505.7 2661.2,495.2 2672.2,505.7" fill="#ef5560" />
<ellipse cx="1080.4" cy="993.1" rx="13" ry="8.5" fill="#ffffff"/>
<ellipse cx="988.8" cy="935.8" rx="13" ry="8.5" fill="#ffffff"/>
<ellipse cx="1728.6" cy="777.8" rx="13" ry="8.5" fill="#ffffff"/>
<ellipse cx="1868.9" cy="661.9" rx="13" ry="8.5" fill="#ffffff"/>
<ellipse cx="2027" cy="609.5" rx="13" ry="8.5" fill="#ffffff"/>
<ellipse cx="2212.7" cy="487.3" rx="13" ry="8.5" fill="#ffffff"/>
<ellipse cx="2494.5" cy="453" rx="13" ry="8.5" fill="#ffffff"/>
<ellipse cx="2696.7" cy="402.4" rx="13" ry="8.5" fill="#ffffff"/>
<polyline points="1082.4,263.7 1082.4,990.0" fill="none" stroke="#1ea5dd" stroke-width="2.6"/>
<polyline points="987.8,549.5 987.8,933.0" fill="none" stroke="#1ea5dd" stroke-width="2.6"/>
<polyline points="1410.3,262.5 1410.3,500.6 1728.6,777.8" fill="none" stroke="#1ea5dd" stroke-width="2.6"/>
<polyline points="1693.7,260.3 1693.7,515.5 1868.9,661.9" fill="none" stroke="#1ea5dd" stroke-width="2.6"/>
<polyline points="1972.6,263.1 1972.6,330.6 2212.7,487.3" fill="none" stroke="#1ea5dd" stroke-width="2.6"/>
<polyline points="2697.6,257.9 2697.6,402.4" fill="none" stroke="#1ea5dd" stroke-width="2.6"/>
<polyline points="2495.0,453.8 2687.5,568.6 2687.5,888.0" fill="none" stroke="#1ea5dd" stroke-width="2.6"/>
<polyline points="2026.0,611.2 2316.0,791.4 2316.0,888.0" fill="none" stroke="#1ea5dd" stroke-width="2.6"/>
<polyline points="2375.0,196.8 2375.0,257.9 2481.0,321.0" fill="none" stroke="#e8202a" stroke-width="2.4"/>
<rect x="907.1" y="135.1" width="349.6" height="44.4" rx="7" fill="#00adee"/>
<text x="994.5" y="170.8" font-family="Liberation Sans" font-weight="bold" font-size="35.5" fill="#ffffff" stroke="#ffffff" stroke-width="1.1" stroke-linejoin="round" textLength="191.8" lengthAdjust="spacingAndGlyphs">PLOŠČAD 4</text>
<rect x="904.7" y="174.3" width="67" height="68" rx="16" fill="#ffffff"/>
<rect x="906.7" y="176.3" width="63" height="64" rx="14" fill="#3a5ba9"/>
<g transform="translate(906.7,176.3)"><path d="M7,37 L57,35.5 L52,42 L9,43 Z M15,36.5 L21,29 L36,29 L43,35.5 Z" fill="#fff"/><path d="M24,31 h5 v3 h-5z M31,31 h5 l2,3 h-7z" fill="#3a5ba9"/></g>
<rect x="977.4" y="174.3" width="67" height="68" rx="16" fill="#ffffff"/>
<rect x="979.4" y="176.3" width="63" height="64" rx="14" fill="#3a5ba9"/>
<g transform="translate(979.4,176.3)"><path d="M31,6 L31,50 L17,50 Z M33,12 L48,50 L33,50 Z M15,52 L50,52 L48,55 L17,55 Z" fill="#fff"/></g>
<rect x="1048.3" y="174.3" width="67" height="68" rx="16" fill="#ffffff"/>
<rect x="1050.3" y="176.3" width="63" height="64" rx="14" fill="#3a5ba9"/>
<g transform="translate(1050.3,176.3)"><path d="M7,51 Q30,47 55,47.5 Q58,50 55,52.5 Q30,55 9,54.5 Z" fill="#fff"/><circle cx="36" cy="12" r="4" fill="#fff"/><path d="M31,17 Q36,15 39,18 L41,27 L44,24 L45,26 L40,32 L38,30 L38,47 L34.5,47 L34,36 L32,47 L28.5,47 L30,33 Q28,25 31,17Z" fill="#fff"/><path d="M43,9 L53,52" stroke="#fff" stroke-width="1.8"/><path d="M51,46 L55,53 L52,54 Z" fill="#fff"/></g>
<rect x="1120.5" y="174.3" width="67" height="68" rx="16" fill="#ffffff"/>
<rect x="1122.5" y="176.3" width="63" height="64" rx="14" fill="#3a5ba9"/>
<g transform="translate(1122.5,176.3)"><path d="M19,9 v14 q0,6 4,8 l-1,28 h4 l-1,-28 q4,-2 4,-8 v-14 h-1.3 v13 h-1.2 v-13 h-1.3 v13 h-1.2 v-13 h-1.3 v13 h-1.2 v-13z M36,58 l1,-22 q-3,-2 -2,-10 q1,-12 5,-17 q2,12 2,27 l-1,22z" fill="#fff"/></g>
<rect x="1191.2" y="174.3" width="67" height="68" rx="16" fill="#ffffff"/>
<rect x="1193.2" y="176.3" width="63" height="64" rx="14" fill="#3a5ba9"/>
<g transform="translate(1193.2,176.3)"><text x="6" y="19" font-family="Liberation Sans" font-weight="bold" font-size="13" fill="#fff">Green</text><path d="M6,24 h26 v4 h-22 v4 h-4z M10,33 h20 v16 h-18 v-2 h16 v-12 h-18z" fill="#fff"/><circle cx="48" cy="36" r="13" fill="none" stroke="#fff" stroke-width="1.3"/><circle cx="48" cy="36" r="10" fill="none" stroke="#fff" stroke-width="1.2"/><circle cx="48" cy="36" r="7.5" fill="#fff"/><circle cx="48" cy="36" r="2.5" fill="#3a5ba9"/><text x="7" y="56" font-family="Liberation Sans" font-weight="bold" font-size="7.5" fill="#fff">Avenue</text></g>
<rect x="1287.9" y="136.9" width="239.7" height="44.2" rx="7" fill="#00adee"/>
<text x="1312.2" y="170.6" font-family="Liberation Sans" font-weight="bold" font-size="35.5" fill="#ffffff" stroke="#ffffff" stroke-width="1.1" stroke-linejoin="round" textLength="190.5" lengthAdjust="spacingAndGlyphs">PLOŠČAD 3</text>
<rect x="1303.8" y="175.5" width="67" height="68" rx="16" fill="#ffffff"/>
<rect x="1305.8" y="177.5" width="63" height="64" rx="14" fill="#3a5ba9"/>
<g transform="translate(1305.8,177.5)"><path d="M7,37 L57,35.5 L52,42 L9,43 Z M15,36.5 L21,29 L36,29 L43,35.5 Z" fill="#fff"/><path d="M24,31 h5 v3 h-5z M31,31 h5 l2,3 h-7z" fill="#3a5ba9"/></g>
<rect x="1373.2" y="175.5" width="67" height="68" rx="16" fill="#ffffff"/>
<rect x="1375.2" y="177.5" width="63" height="64" rx="14" fill="#3a5ba9"/>
<g transform="translate(1375.2,177.5)"><circle cx="31" cy="11" r="4.6" fill="#fff"/><path d="M27,17 Q32,15 34,19 L37,27 L42,28 L42,31 L35,31 L33,27 L33,33 L40,38 L37,40 L27,36 Q24,32 25,24 Q25,19 27,17Z" fill="#fff"/><path d="M9,40 Q8,35 15,34 Q22,36 28,38 L56,29 L58,31 Q50,42 36,45 Q20,47 9,40Z" fill="#fff"/><path d="M5,51 Q13,45 21,50 Q29,55 37,50 Q45,45 53,49 Q57,51 59,50 Q55,55 48,53 Q41,51 36,55 Q28,58 20,54 Q12,50 5,51Z" fill="#fff"/></g>
<rect x="1442.7" y="175.5" width="67" height="68" rx="16" fill="#ffffff"/>
<rect x="1444.7" y="177.5" width="63" height="64" rx="14" fill="#3a5ba9"/>
<g transform="translate(1444.7,177.5)"><path d="M15,33 L50,31 Q58,31 58,36.5 Q58,42 50,42 L15,43 Z M26,29 h6 v3 h-6z" fill="#fff"/><path d="M6,31 h9 v5 h-3 v9 l-2,2 l-1,-11 h-3z" fill="#fff"/></g>
<rect x="1617.3" y="136.9" width="149.2" height="44.2" rx="7" fill="#00adee"/>
<text x="1632.7" y="170.6" font-family="Liberation Sans" font-weight="bold" font-size="35.5" fill="#ffffff" stroke="#ffffff" stroke-width="1.1" stroke-linejoin="round" textLength="124.0" lengthAdjust="spacingAndGlyphs">HALA B</text>
<rect x="1660" y="175.5" width="67" height="68" rx="16" fill="#ffffff"/>
<rect x="1662" y="177.5" width="63" height="64" rx="14" fill="#3a5ba9"/>
<g transform="translate(1662,177.5)"><path d="M26,10 L37,10 L48,16 L53,48 L47,50 L44,30 L44,54 L19,54 L19,30 L16,50 L10,48 L15,16 Z" fill="#fff"/><path d="M31.5,12 v42" stroke="#3a5ba9" stroke-width="1.3"/><path d="M38,21 h5 v2 h-5z" fill="#3a5ba9"/></g>
<rect x="1802.8" y="136.9" width="335.9" height="42.6" rx="7" fill="#00adee"/>
<text x="1907.5" y="170.6" font-family="Liberation Sans" font-weight="bold" font-size="35.5" fill="#ffffff" stroke="#ffffff" stroke-width="1.1" stroke-linejoin="round" textLength="126.0" lengthAdjust="spacingAndGlyphs">HALA A</text>
<rect x="1799.4" y="175.5" width="67" height="68" rx="16" fill="#ffffff"/>
<rect x="1801.4" y="177.5" width="63" height="64" rx="14" fill="#3a5ba9"/>
<g transform="translate(1801.4,177.5)"><circle cx="31.5" cy="12" r="4.6" fill="none" stroke="#fff" stroke-width="2.6"/><path d="M30,16 h3 v6 h6 v3 h-6 v25 q10,-1 13,-11 l-3,-1 l6,-6 l2,8 l-3,-1 q-4,14 -16,15 q-12,-1 -16,-15 l-3,1 l2,-8 l6,6 l-3,1 q3,10 13,11 v-25 h-6 v-3 h6z" fill="#fff"/></g>
<rect x="1868.3" y="175.5" width="67" height="68" rx="16" fill="#ffffff"/>
<rect x="1870.3" y="177.5" width="63" height="64" rx="14" fill="#3a5ba9"/>
<g transform="translate(1870.3,177.5)"><path d="M15,33 L50,31 Q58,31 58,36.5 Q58,42 50,42 L15,43 Z M26,29 h6 v3 h-6z" fill="#fff"/><path d="M6,31 h9 v5 h-3 v9 l-2,2 l-1,-11 h-3z" fill="#fff"/></g>
<rect x="1936.7" y="175.5" width="67" height="68" rx="16" fill="#ffffff"/>
<rect x="1938.7" y="177.5" width="63" height="64" rx="14" fill="#3a5ba9"/>
<g transform="translate(1938.7,177.5)"><path d="M31,31 Q22,28 20,16 Q20,8 28,8 Q33,9 33,15 Q33,24 31,31Z M32,31 Q38,22 50,24 Q56,26 54,31 Q52,35 46,34 Q38,33 32,31Z M32,33 Q40,38 40,50 Q38,56 33,55 Q28,53 29,47 Q30,40 32,33Z M30,33 Q24,40 12,38 Q6,36 8,31 Q10,27 16,28 Q24,30 30,33Z" fill="#fff"/><circle cx="31.5" cy="32" r="2" fill="#3a5ba9"/></g>
<rect x="2004.8" y="175.5" width="67" height="68" rx="16" fill="#ffffff"/>
<rect x="2006.8" y="177.5" width="63" height="64" rx="14" fill="#3a5ba9"/>
<g transform="translate(2006.8,177.5)"><path d="M14,16 Q18,12 24,14 Q24,22 28,26 L28,35 L12,35 Q12,24 14,16Z M49,16 Q45,12 39,14 Q39,22 35,26 L35,35 L51,35 Q51,24 49,16Z M12,39 h16 v14 h-16z M35,39 h16 v14 h-16z M28,36 h7 v2 h-7z" fill="#fff"/></g>
<rect x="2073" y="175.5" width="67" height="68" rx="16" fill="#ffffff"/>
<rect x="2075" y="177.5" width="63" height="64" rx="14" fill="#3a5ba9"/>
<g transform="translate(2075,177.5)"><path d="M50,8 Q54,6 55,10 Q55,14 51,17 L20,48 Q19,55 13,58 Q8,60 8,56 Q9,50 16,46 L47,15 Q46,10 50,8Z" fill="#fff"/></g>
<rect x="2272.6" y="134.3" width="204.8" height="44.0" rx="7" fill="#ec1c24"/>
<text x="2321.9" y="170.5" font-family="Liberation Sans" font-weight="bold" font-size="35.5" fill="#ffffff" stroke="#ffffff" stroke-width="1.1" stroke-linejoin="round" textLength="106.2" lengthAdjust="spacingAndGlyphs">VHOD</text>
<rect x="2595.7" y="135.5" width="204.3" height="44.0" rx="7" fill="#00adee"/>
<text x="2638.5" y="170.6" font-family="Liberation Sans" font-weight="bold" font-size="35.5" fill="#ffffff" stroke="#ffffff" stroke-width="1.1" stroke-linejoin="round" textLength="124.0" lengthAdjust="spacingAndGlyphs">HALA C</text>
<rect x="2594.4" y="173.2" width="67" height="68" rx="16" fill="#ffffff"/>
<rect x="2596.4" y="175.2" width="63" height="64" rx="14" fill="#3a5ba9"/>
<g transform="translate(2596.4,175.2)"><circle cx="39" cy="12" r="5.5" fill="#fff"/><path d="M26,26 L38,22 Q40,22 39,26 L32,50 Q31,53 34,52 L39,49 L40,51 Q32,58 26,57 Q22,56 23,51 L29,31 Q30,28 27,29 Z" fill="#fff"/></g>
<rect x="2664.7" y="173.2" width="67" height="68" rx="16" fill="#ffffff"/>
<rect x="2666.7" y="175.2" width="63" height="64" rx="14" fill="#3a5ba9"/>
<g transform="translate(2666.7,175.2)"><text x="4" y="38" font-family="Liberation Sans" font-weight="bold" font-size="16" fill="#fff" textLength="55" lengthAdjust="spacingAndGlyphs">PRESS</text></g>
<rect x="2734.9" y="173.2" width="67" height="68" rx="16" fill="#ffffff"/>
<rect x="2736.9" y="175.2" width="63" height="64" rx="14" fill="#3a5ba9"/>
<g transform="translate(2736.9,175.2)"><circle cx="31.5" cy="20" r="6" fill="none" stroke="#fff" stroke-width="2.4"/><path d="M31.5,6 v4 M31.5,30 v4 M17.5,20 h4 M41.5,20 h4 M22,10.5 l2.6,2.6 M38.4,26.9 l2.6,2.6 M41,10.5 l-2.6,2.6 M24.6,26.9 l-2.6,2.6" stroke="#fff" stroke-width="2"/><path d="M6,42 q6,-5 12.5,0 t12.5,0 t12.5,0 t12.5,0 M6,51 q6,-5 12.5,0 t12.5,0 t12.5,0 t12.5,0" fill="none" stroke="#fff" stroke-width="2.6"/></g>
<rect x="2196.5" y="890.3" width="243.8" height="44.5" rx="7" fill="#00adee"/>
<text x="2223.7" y="923.8" font-family="Liberation Sans" font-weight="bold" font-size="35.5" fill="#ffffff" stroke="#ffffff" stroke-width="1.1" stroke-linejoin="round" textLength="190.7" lengthAdjust="spacingAndGlyphs">PLOŠČAD 2</text>
<rect x="2242.8" y="929" width="67" height="68" rx="16" fill="#ffffff"/>
<rect x="2244.8" y="931" width="63" height="64" rx="14" fill="#3a5ba9"/>
<g transform="translate(2244.8,931)"><path d="M19,9 v14 q0,6 4,8 l-1,28 h4 l-1,-28 q4,-2 4,-8 v-14 h-1.3 v13 h-1.2 v-13 h-1.3 v13 h-1.2 v-13 h-1.3 v13 h-1.2 v-13z M36,58 l1,-22 q-3,-2 -2,-10 q1,-12 5,-17 q2,12 2,27 l-1,22z" fill="#fff"/></g>
<rect x="2311.3" y="929" width="67" height="68" rx="16" fill="#ffffff"/>
<rect x="2313.3" y="931" width="63" height="64" rx="14" fill="#3a5ba9"/>
<g transform="translate(2313.3,931)"><path d="M8,44 L8,33 L13,25 L13,20 Q13,18 16,18 L55,18 L55,44 Z" fill="#fff"/><path d="M12,32 L15,26 L22,26 L22,32 Z M30,27 h7 v17 h-7z M43,24 h8 v6 h-8z" fill="#3a5ba9"/><circle cx="18" cy="45" r="5.2" fill="#fff" stroke="#3a5ba9" stroke-width="2"/><circle cx="46" cy="45" r="5.2" fill="#fff" stroke="#3a5ba9" stroke-width="2"/><circle cx="18" cy="45" r="1.8" fill="#3a5ba9"/><circle cx="46" cy="45" r="1.8" fill="#3a5ba9"/></g>
<rect x="2573.1" y="891.6" width="222.8" height="44.4" rx="7" fill="#00adee"/>
<text x="2589.4" y="925" font-family="Liberation Sans" font-weight="bold" font-size="35.5" fill="#ffffff" stroke="#ffffff" stroke-width="1.1" stroke-linejoin="round" textLength="188.1" lengthAdjust="spacingAndGlyphs">PLOŠČAD 1</text>
<rect x="2583.8" y="930.2" width="67" height="68" rx="16" fill="#ffffff"/>
<rect x="2585.8" y="932.2" width="63" height="64" rx="14" fill="#3a5ba9"/>
<g transform="translate(2585.8,932.2)"><path d="M15,33 L50,31 Q58,31 58,36.5 Q58,42 50,42 L15,43 Z M26,29 h6 v3 h-6z" fill="#fff"/><path d="M6,31 h9 v5 h-3 v9 l-2,2 l-1,-11 h-3z" fill="#fff"/></g>
<rect x="2653.4" y="930.2" width="67" height="68" rx="16" fill="#ffffff"/>
<rect x="2655.4" y="932.2" width="63" height="64" rx="14" fill="#3a5ba9"/>
<g transform="translate(2655.4,932.2)"><path d="M7,37 L57,35.5 L52,42 L9,43 Z M15,36.5 L21,29 L36,29 L43,35.5 Z" fill="#fff"/><path d="M24,31 h5 v3 h-5z M31,31 h5 l2,3 h-7z" fill="#3a5ba9"/></g>
<rect x="2722" y="930.2" width="67" height="68" rx="16" fill="#ffffff"/>
<rect x="2724" y="932.2" width="63" height="64" rx="14" fill="#3a5ba9"/>
<g transform="translate(2724,932.2)"><circle cx="31" cy="11" r="4.6" fill="#fff"/><path d="M27,17 Q32,15 34,19 L37,27 L42,28 L42,31 L35,31 L33,27 L33,33 L40,38 L37,40 L27,36 Q24,32 25,24 Q25,19 27,17Z" fill="#fff"/><path d="M9,40 Q8,35 15,34 Q22,36 28,38 L56,29 L58,31 Q50,42 36,45 Q20,47 9,40Z" fill="#fff"/><path d="M5,51 Q13,45 21,50 Q29,55 37,50 Q45,45 53,49 Q57,51 59,50 Q55,55 48,53 Q41,51 36,55 Q28,58 20,54 Q12,50 5,51Z" fill="#fff"/></g>
<rect x="903.5" y="493.3" width="166.1" height="45.2" rx="7" fill="#3a5ba9"/>
<text x="931.5" y="528.7" font-family="Liberation Sans" font-weight="bold" font-size="35.5" fill="#ffffff" stroke="#ffffff" stroke-width="1.1" stroke-linejoin="round" textLength="96.7" lengthAdjust="spacingAndGlyphs">ODER</text>
<rect x="1805" y="363.5" width="95" height="95" rx="25" fill="#ffffff"/>
<rect x="1808" y="366.5" width="89" height="89" rx="22" fill="#3a5ba9"/>
<text x="1835.5" y="435.7" font-family="Liberation Sans" font-weight="bold" font-size="60" fill="#ffffff" textLength="38" lengthAdjust="spacingAndGlyphs">P</text>
<line x1="2416" y1="191.5" x2="2530" y2="191.5" stroke="#e6e6e6" stroke-width="1"/>
</svg></body></html>
